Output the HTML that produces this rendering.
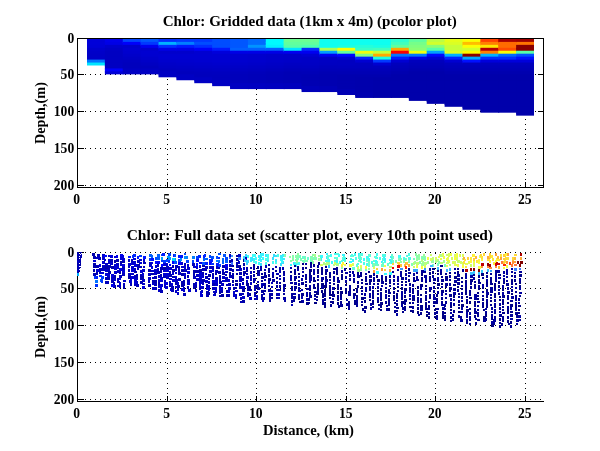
<!DOCTYPE html>
<html><head><meta charset="utf-8"><title>Chlor plots</title>
<style>
html,body{margin:0;padding:0;background:#fff}
svg{display:block}
.g{stroke:#000;stroke-width:1;stroke-dasharray:1 4;fill:none}
</style></head><body>
<svg width="600" height="451" viewBox="0 0 600 451">
<rect width="600" height="451" fill="#fff"/>
<g shape-rendering="crispEdges">
<path d="M167 39h1v1h-1zM167 44h1v1h-1zM167 49h1v1h-1zM167 54h1v1h-1zM167 59h1v1h-1zM167 64h1v1h-1zM167 69h1v1h-1zM167 74h1v1h-1zM167 79h1v1h-1zM167 84h1v1h-1zM167 89h1v1h-1zM167 94h1v1h-1zM167 99h1v1h-1zM167 104h1v1h-1zM167 109h1v1h-1zM167 114h1v1h-1zM167 119h1v1h-1zM167 124h1v1h-1zM167 129h1v1h-1zM167 134h1v1h-1zM167 139h1v1h-1zM167 144h1v1h-1zM167 149h1v1h-1zM167 154h1v1h-1zM167 159h1v1h-1zM167 164h1v1h-1zM167 169h1v1h-1zM167 174h1v1h-1zM167 179h1v1h-1zM167 184h1v1h-1zM256 39h1v1h-1zM256 44h1v1h-1zM256 49h1v1h-1zM256 54h1v1h-1zM256 59h1v1h-1zM256 64h1v1h-1zM256 69h1v1h-1zM256 74h1v1h-1zM256 79h1v1h-1zM256 84h1v1h-1zM256 89h1v1h-1zM256 94h1v1h-1zM256 99h1v1h-1zM256 104h1v1h-1zM256 109h1v1h-1zM256 114h1v1h-1zM256 119h1v1h-1zM256 124h1v1h-1zM256 129h1v1h-1zM256 134h1v1h-1zM256 139h1v1h-1zM256 144h1v1h-1zM256 149h1v1h-1zM256 154h1v1h-1zM256 159h1v1h-1zM256 164h1v1h-1zM256 169h1v1h-1zM256 174h1v1h-1zM256 179h1v1h-1zM256 184h1v1h-1zM346 39h1v1h-1zM346 44h1v1h-1zM346 49h1v1h-1zM346 54h1v1h-1zM346 59h1v1h-1zM346 64h1v1h-1zM346 69h1v1h-1zM346 74h1v1h-1zM346 79h1v1h-1zM346 84h1v1h-1zM346 89h1v1h-1zM346 94h1v1h-1zM346 99h1v1h-1zM346 104h1v1h-1zM346 109h1v1h-1zM346 114h1v1h-1zM346 119h1v1h-1zM346 124h1v1h-1zM346 129h1v1h-1zM346 134h1v1h-1zM346 139h1v1h-1zM346 144h1v1h-1zM346 149h1v1h-1zM346 154h1v1h-1zM346 159h1v1h-1zM346 164h1v1h-1zM346 169h1v1h-1zM346 174h1v1h-1zM346 179h1v1h-1zM346 184h1v1h-1zM435 39h1v1h-1zM435 44h1v1h-1zM435 49h1v1h-1zM435 54h1v1h-1zM435 59h1v1h-1zM435 64h1v1h-1zM435 69h1v1h-1zM435 74h1v1h-1zM435 79h1v1h-1zM435 84h1v1h-1zM435 89h1v1h-1zM435 94h1v1h-1zM435 99h1v1h-1zM435 104h1v1h-1zM435 109h1v1h-1zM435 114h1v1h-1zM435 119h1v1h-1zM435 124h1v1h-1zM435 129h1v1h-1zM435 134h1v1h-1zM435 139h1v1h-1zM435 144h1v1h-1zM435 149h1v1h-1zM435 154h1v1h-1zM435 159h1v1h-1zM435 164h1v1h-1zM435 169h1v1h-1zM435 174h1v1h-1zM435 179h1v1h-1zM435 184h1v1h-1zM525 39h1v1h-1zM525 44h1v1h-1zM525 49h1v1h-1zM525 54h1v1h-1zM525 59h1v1h-1zM525 64h1v1h-1zM525 69h1v1h-1zM525 74h1v1h-1zM525 79h1v1h-1zM525 84h1v1h-1zM525 89h1v1h-1zM525 94h1v1h-1zM525 99h1v1h-1zM525 104h1v1h-1zM525 109h1v1h-1zM525 114h1v1h-1zM525 119h1v1h-1zM525 124h1v1h-1zM525 129h1v1h-1zM525 134h1v1h-1zM525 139h1v1h-1zM525 144h1v1h-1zM525 149h1v1h-1zM525 154h1v1h-1zM525 159h1v1h-1zM525 164h1v1h-1zM525 169h1v1h-1zM525 174h1v1h-1zM525 179h1v1h-1zM525 184h1v1h-1zM80 74h1v1h-1zM85 74h1v1h-1zM90 74h1v1h-1zM95 74h1v1h-1zM100 74h1v1h-1zM105 74h1v1h-1zM110 74h1v1h-1zM115 74h1v1h-1zM120 74h1v1h-1zM125 74h1v1h-1zM130 74h1v1h-1zM135 74h1v1h-1zM140 74h1v1h-1zM145 74h1v1h-1zM150 74h1v1h-1zM155 74h1v1h-1zM160 74h1v1h-1zM165 74h1v1h-1zM170 74h1v1h-1zM175 74h1v1h-1zM180 74h1v1h-1zM185 74h1v1h-1zM190 74h1v1h-1zM195 74h1v1h-1zM200 74h1v1h-1zM205 74h1v1h-1zM210 74h1v1h-1zM215 74h1v1h-1zM220 74h1v1h-1zM225 74h1v1h-1zM230 74h1v1h-1zM235 74h1v1h-1zM240 74h1v1h-1zM245 74h1v1h-1zM250 74h1v1h-1zM255 74h1v1h-1zM260 74h1v1h-1zM265 74h1v1h-1zM270 74h1v1h-1zM275 74h1v1h-1zM280 74h1v1h-1zM285 74h1v1h-1zM290 74h1v1h-1zM295 74h1v1h-1zM300 74h1v1h-1zM305 74h1v1h-1zM310 74h1v1h-1zM315 74h1v1h-1zM320 74h1v1h-1zM325 74h1v1h-1zM330 74h1v1h-1zM335 74h1v1h-1zM340 74h1v1h-1zM345 74h1v1h-1zM350 74h1v1h-1zM355 74h1v1h-1zM360 74h1v1h-1zM365 74h1v1h-1zM370 74h1v1h-1zM375 74h1v1h-1zM380 74h1v1h-1zM385 74h1v1h-1zM390 74h1v1h-1zM395 74h1v1h-1zM400 74h1v1h-1zM405 74h1v1h-1zM410 74h1v1h-1zM415 74h1v1h-1zM420 74h1v1h-1zM425 74h1v1h-1zM430 74h1v1h-1zM435 74h1v1h-1zM440 74h1v1h-1zM445 74h1v1h-1zM450 74h1v1h-1zM455 74h1v1h-1zM460 74h1v1h-1zM465 74h1v1h-1zM470 74h1v1h-1zM475 74h1v1h-1zM480 74h1v1h-1zM485 74h1v1h-1zM490 74h1v1h-1zM495 74h1v1h-1zM500 74h1v1h-1zM505 74h1v1h-1zM510 74h1v1h-1zM515 74h1v1h-1zM520 74h1v1h-1zM525 74h1v1h-1zM530 74h1v1h-1zM535 74h1v1h-1zM540 74h1v1h-1zM80 111h1v1h-1zM85 111h1v1h-1zM90 111h1v1h-1zM95 111h1v1h-1zM100 111h1v1h-1zM105 111h1v1h-1zM110 111h1v1h-1zM115 111h1v1h-1zM120 111h1v1h-1zM125 111h1v1h-1zM130 111h1v1h-1zM135 111h1v1h-1zM140 111h1v1h-1zM145 111h1v1h-1zM150 111h1v1h-1zM155 111h1v1h-1zM160 111h1v1h-1zM165 111h1v1h-1zM170 111h1v1h-1zM175 111h1v1h-1zM180 111h1v1h-1zM185 111h1v1h-1zM190 111h1v1h-1zM195 111h1v1h-1zM200 111h1v1h-1zM205 111h1v1h-1zM210 111h1v1h-1zM215 111h1v1h-1zM220 111h1v1h-1zM225 111h1v1h-1zM230 111h1v1h-1zM235 111h1v1h-1zM240 111h1v1h-1zM245 111h1v1h-1zM250 111h1v1h-1zM255 111h1v1h-1zM260 111h1v1h-1zM265 111h1v1h-1zM270 111h1v1h-1zM275 111h1v1h-1zM280 111h1v1h-1zM285 111h1v1h-1zM290 111h1v1h-1zM295 111h1v1h-1zM300 111h1v1h-1zM305 111h1v1h-1zM310 111h1v1h-1zM315 111h1v1h-1zM320 111h1v1h-1zM325 111h1v1h-1zM330 111h1v1h-1zM335 111h1v1h-1zM340 111h1v1h-1zM345 111h1v1h-1zM350 111h1v1h-1zM355 111h1v1h-1zM360 111h1v1h-1zM365 111h1v1h-1zM370 111h1v1h-1zM375 111h1v1h-1zM380 111h1v1h-1zM385 111h1v1h-1zM390 111h1v1h-1zM395 111h1v1h-1zM400 111h1v1h-1zM405 111h1v1h-1zM410 111h1v1h-1zM415 111h1v1h-1zM420 111h1v1h-1zM425 111h1v1h-1zM430 111h1v1h-1zM435 111h1v1h-1zM440 111h1v1h-1zM445 111h1v1h-1zM450 111h1v1h-1zM455 111h1v1h-1zM460 111h1v1h-1zM465 111h1v1h-1zM470 111h1v1h-1zM475 111h1v1h-1zM480 111h1v1h-1zM485 111h1v1h-1zM490 111h1v1h-1zM495 111h1v1h-1zM500 111h1v1h-1zM505 111h1v1h-1zM510 111h1v1h-1zM515 111h1v1h-1zM520 111h1v1h-1zM525 111h1v1h-1zM530 111h1v1h-1zM535 111h1v1h-1zM540 111h1v1h-1zM80 148h1v1h-1zM85 148h1v1h-1zM90 148h1v1h-1zM95 148h1v1h-1zM100 148h1v1h-1zM105 148h1v1h-1zM110 148h1v1h-1zM115 148h1v1h-1zM120 148h1v1h-1zM125 148h1v1h-1zM130 148h1v1h-1zM135 148h1v1h-1zM140 148h1v1h-1zM145 148h1v1h-1zM150 148h1v1h-1zM155 148h1v1h-1zM160 148h1v1h-1zM165 148h1v1h-1zM170 148h1v1h-1zM175 148h1v1h-1zM180 148h1v1h-1zM185 148h1v1h-1zM190 148h1v1h-1zM195 148h1v1h-1zM200 148h1v1h-1zM205 148h1v1h-1zM210 148h1v1h-1zM215 148h1v1h-1zM220 148h1v1h-1zM225 148h1v1h-1zM230 148h1v1h-1zM235 148h1v1h-1zM240 148h1v1h-1zM245 148h1v1h-1zM250 148h1v1h-1zM255 148h1v1h-1zM260 148h1v1h-1zM265 148h1v1h-1zM270 148h1v1h-1zM275 148h1v1h-1zM280 148h1v1h-1zM285 148h1v1h-1zM290 148h1v1h-1zM295 148h1v1h-1zM300 148h1v1h-1zM305 148h1v1h-1zM310 148h1v1h-1zM315 148h1v1h-1zM320 148h1v1h-1zM325 148h1v1h-1zM330 148h1v1h-1zM335 148h1v1h-1zM340 148h1v1h-1zM345 148h1v1h-1zM350 148h1v1h-1zM355 148h1v1h-1zM360 148h1v1h-1zM365 148h1v1h-1zM370 148h1v1h-1zM375 148h1v1h-1zM380 148h1v1h-1zM385 148h1v1h-1zM390 148h1v1h-1zM395 148h1v1h-1zM400 148h1v1h-1zM405 148h1v1h-1zM410 148h1v1h-1zM415 148h1v1h-1zM420 148h1v1h-1zM425 148h1v1h-1zM430 148h1v1h-1zM435 148h1v1h-1zM440 148h1v1h-1zM445 148h1v1h-1zM450 148h1v1h-1zM455 148h1v1h-1zM460 148h1v1h-1zM465 148h1v1h-1zM470 148h1v1h-1zM475 148h1v1h-1zM480 148h1v1h-1zM485 148h1v1h-1zM490 148h1v1h-1zM495 148h1v1h-1zM500 148h1v1h-1zM505 148h1v1h-1zM510 148h1v1h-1zM515 148h1v1h-1zM520 148h1v1h-1zM525 148h1v1h-1zM530 148h1v1h-1zM535 148h1v1h-1zM540 148h1v1h-1zM80 185h1v1h-1zM85 185h1v1h-1zM90 185h1v1h-1zM95 185h1v1h-1zM100 185h1v1h-1zM105 185h1v1h-1zM110 185h1v1h-1zM115 185h1v1h-1zM120 185h1v1h-1zM125 185h1v1h-1zM130 185h1v1h-1zM135 185h1v1h-1zM140 185h1v1h-1zM145 185h1v1h-1zM150 185h1v1h-1zM155 185h1v1h-1zM160 185h1v1h-1zM165 185h1v1h-1zM170 185h1v1h-1zM175 185h1v1h-1zM180 185h1v1h-1zM185 185h1v1h-1zM190 185h1v1h-1zM195 185h1v1h-1zM200 185h1v1h-1zM205 185h1v1h-1zM210 185h1v1h-1zM215 185h1v1h-1zM220 185h1v1h-1zM225 185h1v1h-1zM230 185h1v1h-1zM235 185h1v1h-1zM240 185h1v1h-1zM245 185h1v1h-1zM250 185h1v1h-1zM255 185h1v1h-1zM260 185h1v1h-1zM265 185h1v1h-1zM270 185h1v1h-1zM275 185h1v1h-1zM280 185h1v1h-1zM285 185h1v1h-1zM290 185h1v1h-1zM295 185h1v1h-1zM300 185h1v1h-1zM305 185h1v1h-1zM310 185h1v1h-1zM315 185h1v1h-1zM320 185h1v1h-1zM325 185h1v1h-1zM330 185h1v1h-1zM335 185h1v1h-1zM340 185h1v1h-1zM345 185h1v1h-1zM350 185h1v1h-1zM355 185h1v1h-1zM360 185h1v1h-1zM365 185h1v1h-1zM370 185h1v1h-1zM375 185h1v1h-1zM380 185h1v1h-1zM385 185h1v1h-1zM390 185h1v1h-1zM395 185h1v1h-1zM400 185h1v1h-1zM405 185h1v1h-1zM410 185h1v1h-1zM415 185h1v1h-1zM420 185h1v1h-1zM425 185h1v1h-1zM430 185h1v1h-1zM435 185h1v1h-1zM440 185h1v1h-1zM445 185h1v1h-1zM450 185h1v1h-1zM455 185h1v1h-1zM460 185h1v1h-1zM465 185h1v1h-1zM470 185h1v1h-1zM475 185h1v1h-1zM480 185h1v1h-1zM485 185h1v1h-1zM490 185h1v1h-1zM495 185h1v1h-1zM500 185h1v1h-1zM505 185h1v1h-1zM510 185h1v1h-1zM515 185h1v1h-1zM520 185h1v1h-1zM525 185h1v1h-1zM530 185h1v1h-1zM535 185h1v1h-1zM540 185h1v1h-1z" fill="#000"/>
<g shape-rendering="geometricPrecision">
<rect x="87.00" y="38.00" width="18.88" height="4.90" fill="#0000d9"/>
<rect x="87.00" y="41.90" width="18.88" height="3.95" fill="#0000d9"/>
<rect x="87.00" y="44.85" width="18.88" height="3.95" fill="#0000d6"/>
<rect x="87.00" y="47.80" width="18.88" height="3.95" fill="#0000cc"/>
<rect x="87.00" y="50.75" width="18.88" height="3.95" fill="#0000c9"/>
<rect x="87.00" y="53.70" width="18.88" height="3.95" fill="#0000c7"/>
<rect x="87.00" y="56.65" width="18.88" height="3.95" fill="#0000c7"/>
<rect x="87.00" y="59.60" width="18.88" height="3.95" fill="#0075ff"/>
<rect x="87.00" y="62.55" width="18.88" height="2.95" fill="#00e5ff"/>
<rect x="104.88" y="38.00" width="18.88" height="4.90" fill="#0000eb"/>
<rect x="104.88" y="41.90" width="18.88" height="3.95" fill="#0000e6"/>
<rect x="104.88" y="44.85" width="18.88" height="3.95" fill="#0000cc"/>
<rect x="104.88" y="47.80" width="18.88" height="3.95" fill="#0000c5"/>
<rect x="104.88" y="50.75" width="18.88" height="3.95" fill="#0000c2"/>
<rect x="104.88" y="53.70" width="18.88" height="3.95" fill="#0000c2"/>
<rect x="104.88" y="56.65" width="18.88" height="3.95" fill="#0000c2"/>
<rect x="104.88" y="59.60" width="18.88" height="3.95" fill="#0000c2"/>
<rect x="104.88" y="62.55" width="18.88" height="3.95" fill="#0000c2"/>
<rect x="104.88" y="65.50" width="18.88" height="3.95" fill="#0000c2"/>
<rect x="104.88" y="68.45" width="18.88" height="3.95" fill="#0000fa"/>
<rect x="104.88" y="71.40" width="18.88" height="2.95" fill="#0000d6"/>
<rect x="122.76" y="38.00" width="18.88" height="4.90" fill="#0042ff"/>
<rect x="122.76" y="41.90" width="18.88" height="3.95" fill="#0000fa"/>
<rect x="122.76" y="44.85" width="18.88" height="3.95" fill="#0000cc"/>
<rect x="122.76" y="47.80" width="18.88" height="3.95" fill="#0000d1"/>
<rect x="122.76" y="50.75" width="18.88" height="3.95" fill="#0000ce"/>
<rect x="122.76" y="53.70" width="18.88" height="3.95" fill="#0000ca"/>
<rect x="122.76" y="56.65" width="18.88" height="3.95" fill="#0000c5"/>
<rect x="122.76" y="59.60" width="18.88" height="3.95" fill="#0000c0"/>
<rect x="122.76" y="62.55" width="18.88" height="3.95" fill="#0000bd"/>
<rect x="122.76" y="65.50" width="18.88" height="3.95" fill="#0000bd"/>
<rect x="122.76" y="68.45" width="18.88" height="3.95" fill="#0000c3"/>
<rect x="122.76" y="71.40" width="18.88" height="2.95" fill="#0000c3"/>
<rect x="140.64" y="38.00" width="18.88" height="4.90" fill="#0057ff"/>
<rect x="140.64" y="41.90" width="18.88" height="3.95" fill="#0038ff"/>
<rect x="140.64" y="44.85" width="18.88" height="3.95" fill="#0000f0"/>
<rect x="140.64" y="47.80" width="18.88" height="3.95" fill="#0000cc"/>
<rect x="140.64" y="50.75" width="18.88" height="3.95" fill="#0000d1"/>
<rect x="140.64" y="53.70" width="18.88" height="3.95" fill="#0000d0"/>
<rect x="140.64" y="56.65" width="18.88" height="3.95" fill="#0000cb"/>
<rect x="140.64" y="59.60" width="18.88" height="3.95" fill="#0000c7"/>
<rect x="140.64" y="62.55" width="18.88" height="3.95" fill="#0000c2"/>
<rect x="140.64" y="65.50" width="18.88" height="3.95" fill="#0000bd"/>
<rect x="140.64" y="68.45" width="18.88" height="3.95" fill="#0000c3"/>
<rect x="140.64" y="71.40" width="18.88" height="2.95" fill="#0000c3"/>
<rect x="158.52" y="38.00" width="18.88" height="4.90" fill="#002eff"/>
<rect x="158.52" y="41.90" width="18.88" height="3.95" fill="#00b2ff"/>
<rect x="158.52" y="44.85" width="18.88" height="3.95" fill="#002eff"/>
<rect x="158.52" y="47.80" width="18.88" height="3.95" fill="#0000e6"/>
<rect x="158.52" y="50.75" width="18.88" height="3.95" fill="#0000cc"/>
<rect x="158.52" y="53.70" width="18.88" height="3.95" fill="#0000d1"/>
<rect x="158.52" y="56.65" width="18.88" height="3.95" fill="#0000d1"/>
<rect x="158.52" y="59.60" width="18.88" height="3.95" fill="#0000cd"/>
<rect x="158.52" y="62.55" width="18.88" height="3.95" fill="#0000c8"/>
<rect x="158.52" y="65.50" width="18.88" height="3.95" fill="#0000c4"/>
<rect x="158.52" y="68.45" width="18.88" height="3.95" fill="#0000bf"/>
<rect x="158.52" y="71.40" width="18.88" height="3.95" fill="#0000c3"/>
<rect x="158.52" y="74.35" width="18.88" height="2.95" fill="#0000c3"/>
<rect x="176.40" y="38.00" width="18.88" height="4.90" fill="#0038ff"/>
<rect x="176.40" y="41.90" width="18.88" height="3.95" fill="#0080ff"/>
<rect x="176.40" y="44.85" width="18.88" height="3.95" fill="#001aff"/>
<rect x="176.40" y="47.80" width="18.88" height="3.95" fill="#0000e6"/>
<rect x="176.40" y="50.75" width="18.88" height="3.95" fill="#0000cc"/>
<rect x="176.40" y="53.70" width="18.88" height="3.95" fill="#0000d1"/>
<rect x="176.40" y="56.65" width="18.88" height="3.95" fill="#0000d1"/>
<rect x="176.40" y="59.60" width="18.88" height="3.95" fill="#0000ce"/>
<rect x="176.40" y="62.55" width="18.88" height="3.95" fill="#0000ca"/>
<rect x="176.40" y="65.50" width="18.88" height="3.95" fill="#0000c5"/>
<rect x="176.40" y="68.45" width="18.88" height="3.95" fill="#0000c1"/>
<rect x="176.40" y="71.40" width="18.88" height="3.95" fill="#0000bd"/>
<rect x="176.40" y="74.35" width="18.88" height="3.95" fill="#0000c3"/>
<rect x="176.40" y="77.30" width="18.88" height="2.95" fill="#0000c3"/>
<rect x="194.28" y="38.00" width="18.88" height="4.90" fill="#0038ff"/>
<rect x="194.28" y="41.90" width="18.88" height="3.95" fill="#004dff"/>
<rect x="194.28" y="44.85" width="18.88" height="3.95" fill="#002eff"/>
<rect x="194.28" y="47.80" width="18.88" height="3.95" fill="#0000fa"/>
<rect x="194.28" y="50.75" width="18.88" height="3.95" fill="#0000d1"/>
<rect x="194.28" y="53.70" width="18.88" height="3.95" fill="#0000d1"/>
<rect x="194.28" y="56.65" width="18.88" height="3.95" fill="#0000d1"/>
<rect x="194.28" y="59.60" width="18.88" height="3.95" fill="#0000d0"/>
<rect x="194.28" y="62.55" width="18.88" height="3.95" fill="#0000cb"/>
<rect x="194.28" y="65.50" width="18.88" height="3.95" fill="#0000c7"/>
<rect x="194.28" y="68.45" width="18.88" height="3.95" fill="#0000c2"/>
<rect x="194.28" y="71.40" width="18.88" height="3.95" fill="#0000be"/>
<rect x="194.28" y="74.35" width="18.88" height="3.95" fill="#0000bd"/>
<rect x="194.28" y="77.30" width="18.88" height="3.95" fill="#0000c3"/>
<rect x="194.28" y="80.25" width="18.88" height="2.95" fill="#0000c3"/>
<rect x="212.16" y="38.00" width="18.88" height="4.90" fill="#004dff"/>
<rect x="212.16" y="41.90" width="18.88" height="3.95" fill="#004dff"/>
<rect x="212.16" y="44.85" width="18.88" height="3.95" fill="#004dff"/>
<rect x="212.16" y="47.80" width="18.88" height="3.95" fill="#001aff"/>
<rect x="212.16" y="50.75" width="18.88" height="3.95" fill="#0000db"/>
<rect x="212.16" y="53.70" width="18.88" height="3.95" fill="#0000d1"/>
<rect x="212.16" y="56.65" width="18.88" height="3.95" fill="#0000d1"/>
<rect x="212.16" y="59.60" width="18.88" height="3.95" fill="#0000d1"/>
<rect x="212.16" y="62.55" width="18.88" height="3.95" fill="#0000cd"/>
<rect x="212.16" y="65.50" width="18.88" height="3.95" fill="#0000c8"/>
<rect x="212.16" y="68.45" width="18.88" height="3.95" fill="#0000c4"/>
<rect x="212.16" y="71.40" width="18.88" height="3.95" fill="#0000bf"/>
<rect x="212.16" y="74.35" width="18.88" height="3.95" fill="#0000bd"/>
<rect x="212.16" y="77.30" width="18.88" height="3.95" fill="#0000bd"/>
<rect x="212.16" y="80.25" width="18.88" height="3.95" fill="#0000c3"/>
<rect x="212.16" y="83.20" width="18.88" height="2.95" fill="#0000c3"/>
<rect x="230.04" y="38.00" width="18.88" height="4.90" fill="#0057ff"/>
<rect x="230.04" y="41.90" width="18.88" height="3.95" fill="#0057ff"/>
<rect x="230.04" y="44.85" width="18.88" height="3.95" fill="#0057ff"/>
<rect x="230.04" y="47.80" width="18.88" height="3.95" fill="#0061ff"/>
<rect x="230.04" y="50.75" width="18.88" height="3.95" fill="#0000e6"/>
<rect x="230.04" y="53.70" width="18.88" height="3.95" fill="#0000cf"/>
<rect x="230.04" y="56.65" width="18.88" height="3.95" fill="#0000cf"/>
<rect x="230.04" y="59.60" width="18.88" height="3.95" fill="#0000cf"/>
<rect x="230.04" y="62.55" width="18.88" height="3.95" fill="#0000cb"/>
<rect x="230.04" y="65.50" width="18.88" height="3.95" fill="#0000c6"/>
<rect x="230.04" y="68.45" width="18.88" height="3.95" fill="#0000c2"/>
<rect x="230.04" y="71.40" width="18.88" height="3.95" fill="#0000bd"/>
<rect x="230.04" y="74.35" width="18.88" height="3.95" fill="#0000bb"/>
<rect x="230.04" y="77.30" width="18.88" height="3.95" fill="#0000bb"/>
<rect x="230.04" y="80.25" width="18.88" height="3.95" fill="#0000bb"/>
<rect x="230.04" y="83.20" width="18.88" height="3.95" fill="#0000c2"/>
<rect x="230.04" y="86.15" width="18.88" height="2.95" fill="#0000c2"/>
<rect x="247.92" y="38.00" width="18.88" height="4.90" fill="#006bff"/>
<rect x="247.92" y="41.90" width="18.88" height="3.95" fill="#006bff"/>
<rect x="247.92" y="44.85" width="18.88" height="3.95" fill="#0094ff"/>
<rect x="247.92" y="47.80" width="18.88" height="3.95" fill="#0061ff"/>
<rect x="247.92" y="50.75" width="18.88" height="3.95" fill="#0000e6"/>
<rect x="247.92" y="53.70" width="18.88" height="3.95" fill="#0000cd"/>
<rect x="247.92" y="56.65" width="18.88" height="3.95" fill="#0000cd"/>
<rect x="247.92" y="59.60" width="18.88" height="3.95" fill="#0000cd"/>
<rect x="247.92" y="62.55" width="18.88" height="3.95" fill="#0000c9"/>
<rect x="247.92" y="65.50" width="18.88" height="3.95" fill="#0000c4"/>
<rect x="247.92" y="68.45" width="18.88" height="3.95" fill="#0000c0"/>
<rect x="247.92" y="71.40" width="18.88" height="3.95" fill="#0000bb"/>
<rect x="247.92" y="74.35" width="18.88" height="3.95" fill="#0000b9"/>
<rect x="247.92" y="77.30" width="18.88" height="3.95" fill="#0000b9"/>
<rect x="247.92" y="80.25" width="18.88" height="3.95" fill="#0000b9"/>
<rect x="247.92" y="83.20" width="18.88" height="3.95" fill="#0000c1"/>
<rect x="247.92" y="86.15" width="18.88" height="2.95" fill="#0000c1"/>
<rect x="265.80" y="38.00" width="18.88" height="4.90" fill="#00faff"/>
<rect x="265.80" y="41.90" width="18.88" height="3.95" fill="#00faff"/>
<rect x="265.80" y="44.85" width="18.88" height="3.95" fill="#00f0ff"/>
<rect x="265.80" y="47.80" width="18.88" height="3.95" fill="#0061ff"/>
<rect x="265.80" y="50.75" width="18.88" height="3.95" fill="#0000e6"/>
<rect x="265.80" y="53.70" width="18.88" height="3.95" fill="#0000ca"/>
<rect x="265.80" y="56.65" width="18.88" height="3.95" fill="#0000ca"/>
<rect x="265.80" y="59.60" width="18.88" height="3.95" fill="#0000ca"/>
<rect x="265.80" y="62.55" width="18.88" height="3.95" fill="#0000c6"/>
<rect x="265.80" y="65.50" width="18.88" height="3.95" fill="#0000c2"/>
<rect x="265.80" y="68.45" width="18.88" height="3.95" fill="#0000bd"/>
<rect x="265.80" y="71.40" width="18.88" height="3.95" fill="#0000b8"/>
<rect x="265.80" y="74.35" width="18.88" height="3.95" fill="#0000b7"/>
<rect x="265.80" y="77.30" width="18.88" height="3.95" fill="#0000b7"/>
<rect x="265.80" y="80.25" width="18.88" height="3.95" fill="#0000b7"/>
<rect x="265.80" y="83.20" width="18.88" height="3.95" fill="#0000bf"/>
<rect x="265.80" y="86.15" width="18.88" height="2.95" fill="#0000bf"/>
<rect x="283.68" y="38.00" width="18.88" height="4.90" fill="#6bff94"/>
<rect x="283.68" y="41.90" width="18.88" height="3.95" fill="#61ff9e"/>
<rect x="283.68" y="44.85" width="18.88" height="3.95" fill="#57ffa8"/>
<rect x="283.68" y="47.80" width="18.88" height="3.95" fill="#00e5ff"/>
<rect x="283.68" y="50.75" width="18.88" height="3.95" fill="#0000f0"/>
<rect x="283.68" y="53.70" width="18.88" height="3.95" fill="#0000c8"/>
<rect x="283.68" y="56.65" width="18.88" height="3.95" fill="#0000c8"/>
<rect x="283.68" y="59.60" width="18.88" height="3.95" fill="#0000c8"/>
<rect x="283.68" y="62.55" width="18.88" height="3.95" fill="#0000c3"/>
<rect x="283.68" y="65.50" width="18.88" height="3.95" fill="#0000bf"/>
<rect x="283.68" y="68.45" width="18.88" height="3.95" fill="#0000ba"/>
<rect x="283.68" y="71.40" width="18.88" height="3.95" fill="#0000b5"/>
<rect x="283.68" y="74.35" width="18.88" height="3.95" fill="#0000b5"/>
<rect x="283.68" y="77.30" width="18.88" height="3.95" fill="#0000b5"/>
<rect x="283.68" y="80.25" width="18.88" height="3.95" fill="#0000b5"/>
<rect x="283.68" y="83.20" width="18.88" height="3.95" fill="#0000bd"/>
<rect x="283.68" y="86.15" width="18.88" height="2.95" fill="#0000bd"/>
<rect x="301.56" y="38.00" width="18.88" height="4.90" fill="#6bff94"/>
<rect x="301.56" y="41.90" width="18.88" height="3.95" fill="#61ff9e"/>
<rect x="301.56" y="44.85" width="18.88" height="3.95" fill="#4dffb2"/>
<rect x="301.56" y="47.80" width="18.88" height="3.95" fill="#002eff"/>
<rect x="301.56" y="50.75" width="18.88" height="3.95" fill="#0000f0"/>
<rect x="301.56" y="53.70" width="18.88" height="3.95" fill="#0000d1"/>
<rect x="301.56" y="56.65" width="18.88" height="3.95" fill="#0000c6"/>
<rect x="301.56" y="59.60" width="18.88" height="3.95" fill="#0000c6"/>
<rect x="301.56" y="62.55" width="18.88" height="3.95" fill="#0000c4"/>
<rect x="301.56" y="65.50" width="18.88" height="3.95" fill="#0000c0"/>
<rect x="301.56" y="68.45" width="18.88" height="3.95" fill="#0000bb"/>
<rect x="301.56" y="71.40" width="18.88" height="3.95" fill="#0000b7"/>
<rect x="301.56" y="74.35" width="18.88" height="3.95" fill="#0000b3"/>
<rect x="301.56" y="77.30" width="18.88" height="3.95" fill="#0000b3"/>
<rect x="301.56" y="80.25" width="18.88" height="3.95" fill="#0000b3"/>
<rect x="301.56" y="83.20" width="18.88" height="3.95" fill="#0000b3"/>
<rect x="301.56" y="86.15" width="18.88" height="3.95" fill="#0000ba"/>
<rect x="301.56" y="89.10" width="18.88" height="2.95" fill="#0000ba"/>
<rect x="319.44" y="38.00" width="18.88" height="4.90" fill="#0ffff0"/>
<rect x="319.44" y="41.90" width="18.88" height="3.95" fill="#0ffff0"/>
<rect x="319.44" y="44.85" width="18.88" height="3.95" fill="#0ffff0"/>
<rect x="319.44" y="47.80" width="18.88" height="3.95" fill="#a8ff57"/>
<rect x="319.44" y="50.75" width="18.88" height="3.95" fill="#009eff"/>
<rect x="319.44" y="53.70" width="18.88" height="3.95" fill="#0000f0"/>
<rect x="319.44" y="56.65" width="18.88" height="3.95" fill="#0000c3"/>
<rect x="319.44" y="59.60" width="18.88" height="3.95" fill="#0000c3"/>
<rect x="319.44" y="62.55" width="18.88" height="3.95" fill="#0000c1"/>
<rect x="319.44" y="65.50" width="18.88" height="3.95" fill="#0000bc"/>
<rect x="319.44" y="68.45" width="18.88" height="3.95" fill="#0000b8"/>
<rect x="319.44" y="71.40" width="18.88" height="3.95" fill="#0000b3"/>
<rect x="319.44" y="74.35" width="18.88" height="3.95" fill="#0000b1"/>
<rect x="319.44" y="77.30" width="18.88" height="3.95" fill="#0000b1"/>
<rect x="319.44" y="80.25" width="18.88" height="3.95" fill="#0000b1"/>
<rect x="319.44" y="83.20" width="18.88" height="3.95" fill="#0000b1"/>
<rect x="319.44" y="86.15" width="18.88" height="3.95" fill="#0000b7"/>
<rect x="319.44" y="89.10" width="18.88" height="2.95" fill="#0000b7"/>
<rect x="337.32" y="38.00" width="18.88" height="4.90" fill="#0ffff0"/>
<rect x="337.32" y="41.90" width="18.88" height="3.95" fill="#0ffff0"/>
<rect x="337.32" y="44.85" width="18.88" height="3.95" fill="#1affe5"/>
<rect x="337.32" y="47.80" width="18.88" height="3.95" fill="#faff05"/>
<rect x="337.32" y="50.75" width="18.88" height="3.95" fill="#61ff9e"/>
<rect x="337.32" y="53.70" width="18.88" height="3.95" fill="#0005ff"/>
<rect x="337.32" y="56.65" width="18.88" height="3.95" fill="#0000d1"/>
<rect x="337.32" y="59.60" width="18.88" height="3.95" fill="#0000c1"/>
<rect x="337.32" y="62.55" width="18.88" height="3.95" fill="#0000c1"/>
<rect x="337.32" y="65.50" width="18.88" height="3.95" fill="#0000bd"/>
<rect x="337.32" y="68.45" width="18.88" height="3.95" fill="#0000b8"/>
<rect x="337.32" y="71.40" width="18.88" height="3.95" fill="#0000b4"/>
<rect x="337.32" y="74.35" width="18.88" height="3.95" fill="#0000af"/>
<rect x="337.32" y="77.30" width="18.88" height="3.95" fill="#0000af"/>
<rect x="337.32" y="80.25" width="18.88" height="3.95" fill="#0000af"/>
<rect x="337.32" y="83.20" width="18.88" height="3.95" fill="#0000af"/>
<rect x="337.32" y="86.15" width="18.88" height="3.95" fill="#0000af"/>
<rect x="337.32" y="89.10" width="18.88" height="3.95" fill="#0000b4"/>
<rect x="337.32" y="92.05" width="18.88" height="2.95" fill="#0000b4"/>
<rect x="355.20" y="38.00" width="18.88" height="4.90" fill="#0ffff0"/>
<rect x="355.20" y="41.90" width="18.88" height="3.95" fill="#0ffff0"/>
<rect x="355.20" y="44.85" width="18.88" height="3.95" fill="#24ffdb"/>
<rect x="355.20" y="47.80" width="18.88" height="3.95" fill="#38ffc7"/>
<rect x="355.20" y="50.75" width="18.88" height="3.95" fill="#f0ff0f"/>
<rect x="355.20" y="53.70" width="18.88" height="3.95" fill="#80ff80"/>
<rect x="355.20" y="56.65" width="18.88" height="3.95" fill="#0024ff"/>
<rect x="355.20" y="59.60" width="18.88" height="3.95" fill="#0000d1"/>
<rect x="355.20" y="62.55" width="18.88" height="3.95" fill="#0000bf"/>
<rect x="355.20" y="65.50" width="18.88" height="3.95" fill="#0000bd"/>
<rect x="355.20" y="68.45" width="18.88" height="3.95" fill="#0000b8"/>
<rect x="355.20" y="71.40" width="18.88" height="3.95" fill="#0000b4"/>
<rect x="355.20" y="74.35" width="18.88" height="3.95" fill="#0000af"/>
<rect x="355.20" y="77.30" width="18.88" height="3.95" fill="#0000ad"/>
<rect x="355.20" y="80.25" width="18.88" height="3.95" fill="#0000ad"/>
<rect x="355.20" y="83.20" width="18.88" height="3.95" fill="#0000ad"/>
<rect x="355.20" y="86.15" width="18.88" height="3.95" fill="#0000ad"/>
<rect x="355.20" y="89.10" width="18.88" height="3.95" fill="#0000ad"/>
<rect x="355.20" y="92.05" width="18.88" height="3.95" fill="#0000b0"/>
<rect x="355.20" y="95.00" width="18.88" height="2.95" fill="#0000b0"/>
<rect x="373.08" y="38.00" width="18.88" height="4.90" fill="#0ffff0"/>
<rect x="373.08" y="41.90" width="18.88" height="3.95" fill="#0ffff0"/>
<rect x="373.08" y="44.85" width="18.88" height="3.95" fill="#1affe5"/>
<rect x="373.08" y="47.80" width="18.88" height="3.95" fill="#42ffbd"/>
<rect x="373.08" y="50.75" width="18.88" height="3.95" fill="#c7ff38"/>
<rect x="373.08" y="53.70" width="18.88" height="3.95" fill="#ffa800"/>
<rect x="373.08" y="56.65" width="18.88" height="3.95" fill="#1affe5"/>
<rect x="373.08" y="59.60" width="18.88" height="3.95" fill="#0038ff"/>
<rect x="373.08" y="62.55" width="18.88" height="3.95" fill="#0000d1"/>
<rect x="373.08" y="65.50" width="18.88" height="3.95" fill="#0000bd"/>
<rect x="373.08" y="68.45" width="18.88" height="3.95" fill="#0000b8"/>
<rect x="373.08" y="71.40" width="18.88" height="3.95" fill="#0000b4"/>
<rect x="373.08" y="74.35" width="18.88" height="3.95" fill="#0000af"/>
<rect x="373.08" y="77.30" width="18.88" height="3.95" fill="#0000ab"/>
<rect x="373.08" y="80.25" width="18.88" height="3.95" fill="#0000ab"/>
<rect x="373.08" y="83.20" width="18.88" height="3.95" fill="#0000ab"/>
<rect x="373.08" y="86.15" width="18.88" height="3.95" fill="#0000ab"/>
<rect x="373.08" y="89.10" width="18.88" height="3.95" fill="#0000ab"/>
<rect x="373.08" y="92.05" width="18.88" height="3.95" fill="#0000ab"/>
<rect x="373.08" y="95.00" width="18.88" height="2.95" fill="#0000ab"/>
<rect x="390.96" y="38.00" width="18.88" height="4.90" fill="#2effd1"/>
<rect x="390.96" y="41.90" width="18.88" height="3.95" fill="#42ffbd"/>
<rect x="390.96" y="44.85" width="18.88" height="3.95" fill="#61ff9e"/>
<rect x="390.96" y="47.80" width="18.88" height="3.95" fill="#ffa800"/>
<rect x="390.96" y="50.75" width="18.88" height="3.95" fill="#fa0000"/>
<rect x="390.96" y="53.70" width="18.88" height="3.95" fill="#0075ff"/>
<rect x="390.96" y="56.65" width="18.88" height="3.95" fill="#001aff"/>
<rect x="390.96" y="59.60" width="18.88" height="3.95" fill="#0000d1"/>
<rect x="390.96" y="62.55" width="18.88" height="3.95" fill="#0000bd"/>
<rect x="390.96" y="65.50" width="18.88" height="3.95" fill="#0000b8"/>
<rect x="390.96" y="68.45" width="18.88" height="3.95" fill="#0000b4"/>
<rect x="390.96" y="71.40" width="18.88" height="3.95" fill="#0000af"/>
<rect x="390.96" y="74.35" width="18.88" height="3.95" fill="#0000ab"/>
<rect x="390.96" y="77.30" width="18.88" height="3.95" fill="#0000ab"/>
<rect x="390.96" y="80.25" width="18.88" height="3.95" fill="#0000ab"/>
<rect x="390.96" y="83.20" width="18.88" height="3.95" fill="#0000ab"/>
<rect x="390.96" y="86.15" width="18.88" height="3.95" fill="#0000ab"/>
<rect x="390.96" y="89.10" width="18.88" height="3.95" fill="#0000ab"/>
<rect x="390.96" y="92.05" width="18.88" height="3.95" fill="#0000ab"/>
<rect x="390.96" y="95.00" width="18.88" height="2.95" fill="#0000ab"/>
<rect x="408.84" y="38.00" width="18.88" height="4.90" fill="#61ff9e"/>
<rect x="408.84" y="41.90" width="18.88" height="3.95" fill="#75ff8a"/>
<rect x="408.84" y="44.85" width="18.88" height="3.95" fill="#80ff80"/>
<rect x="408.84" y="47.80" width="18.88" height="3.95" fill="#8aff75"/>
<rect x="408.84" y="50.75" width="18.88" height="3.95" fill="#f0ff0f"/>
<rect x="408.84" y="53.70" width="18.88" height="3.95" fill="#0075ff"/>
<rect x="408.84" y="56.65" width="18.88" height="3.95" fill="#0000e6"/>
<rect x="408.84" y="59.60" width="18.88" height="3.95" fill="#0000bd"/>
<rect x="408.84" y="62.55" width="18.88" height="3.95" fill="#0000b8"/>
<rect x="408.84" y="65.50" width="18.88" height="3.95" fill="#0000b4"/>
<rect x="408.84" y="68.45" width="18.88" height="3.95" fill="#0000af"/>
<rect x="408.84" y="71.40" width="18.88" height="3.95" fill="#0000ab"/>
<rect x="408.84" y="74.35" width="18.88" height="3.95" fill="#0000ab"/>
<rect x="408.84" y="77.30" width="18.88" height="3.95" fill="#0000ab"/>
<rect x="408.84" y="80.25" width="18.88" height="3.95" fill="#0000ab"/>
<rect x="408.84" y="83.20" width="18.88" height="3.95" fill="#0000ab"/>
<rect x="408.84" y="86.15" width="18.88" height="3.95" fill="#0000ab"/>
<rect x="408.84" y="89.10" width="18.88" height="3.95" fill="#0000ab"/>
<rect x="408.84" y="92.05" width="18.88" height="3.95" fill="#0000ab"/>
<rect x="408.84" y="95.00" width="18.88" height="3.95" fill="#0000ab"/>
<rect x="408.84" y="97.95" width="18.88" height="2.95" fill="#0000ab"/>
<rect x="426.72" y="38.00" width="18.88" height="4.90" fill="#bdff42"/>
<rect x="426.72" y="41.90" width="18.88" height="3.95" fill="#d1ff2e"/>
<rect x="426.72" y="44.85" width="18.88" height="3.95" fill="#8aff75"/>
<rect x="426.72" y="47.80" width="18.88" height="3.95" fill="#57ffa8"/>
<rect x="426.72" y="50.75" width="18.88" height="3.95" fill="#009eff"/>
<rect x="426.72" y="53.70" width="18.88" height="3.95" fill="#0005ff"/>
<rect x="426.72" y="56.65" width="18.88" height="3.95" fill="#0000d1"/>
<rect x="426.72" y="59.60" width="18.88" height="3.95" fill="#0000bd"/>
<rect x="426.72" y="62.55" width="18.88" height="3.95" fill="#0000b8"/>
<rect x="426.72" y="65.50" width="18.88" height="3.95" fill="#0000b4"/>
<rect x="426.72" y="68.45" width="18.88" height="3.95" fill="#0000af"/>
<rect x="426.72" y="71.40" width="18.88" height="3.95" fill="#0000ab"/>
<rect x="426.72" y="74.35" width="18.88" height="3.95" fill="#0000ab"/>
<rect x="426.72" y="77.30" width="18.88" height="3.95" fill="#0000ab"/>
<rect x="426.72" y="80.25" width="18.88" height="3.95" fill="#0000ab"/>
<rect x="426.72" y="83.20" width="18.88" height="3.95" fill="#0000ab"/>
<rect x="426.72" y="86.15" width="18.88" height="3.95" fill="#0000ab"/>
<rect x="426.72" y="89.10" width="18.88" height="3.95" fill="#0000ab"/>
<rect x="426.72" y="92.05" width="18.88" height="3.95" fill="#0000ab"/>
<rect x="426.72" y="95.00" width="18.88" height="3.95" fill="#0000ab"/>
<rect x="426.72" y="97.95" width="18.88" height="3.95" fill="#0000ab"/>
<rect x="426.72" y="100.90" width="18.88" height="2.95" fill="#0000ab"/>
<rect x="444.60" y="38.00" width="18.88" height="4.90" fill="#e5ff1a"/>
<rect x="444.60" y="41.90" width="18.88" height="3.95" fill="#dbff24"/>
<rect x="444.60" y="44.85" width="18.88" height="3.95" fill="#c7ff38"/>
<rect x="444.60" y="47.80" width="18.88" height="3.95" fill="#c7ff38"/>
<rect x="444.60" y="50.75" width="18.88" height="3.95" fill="#dbff24"/>
<rect x="444.60" y="53.70" width="18.88" height="3.95" fill="#00b2ff"/>
<rect x="444.60" y="56.65" width="18.88" height="3.95" fill="#0024ff"/>
<rect x="444.60" y="59.60" width="18.88" height="3.95" fill="#0000d1"/>
<rect x="444.60" y="62.55" width="18.88" height="3.95" fill="#0000bd"/>
<rect x="444.60" y="65.50" width="18.88" height="3.95" fill="#0000b8"/>
<rect x="444.60" y="68.45" width="18.88" height="3.95" fill="#0000b4"/>
<rect x="444.60" y="71.40" width="18.88" height="3.95" fill="#0000af"/>
<rect x="444.60" y="74.35" width="18.88" height="3.95" fill="#0000ab"/>
<rect x="444.60" y="77.30" width="18.88" height="3.95" fill="#0000ab"/>
<rect x="444.60" y="80.25" width="18.88" height="3.95" fill="#0000ab"/>
<rect x="444.60" y="83.20" width="18.88" height="3.95" fill="#0000ab"/>
<rect x="444.60" y="86.15" width="18.88" height="3.95" fill="#0000ab"/>
<rect x="444.60" y="89.10" width="18.88" height="3.95" fill="#0000ab"/>
<rect x="444.60" y="92.05" width="18.88" height="3.95" fill="#0000ab"/>
<rect x="444.60" y="95.00" width="18.88" height="3.95" fill="#0000ab"/>
<rect x="444.60" y="97.95" width="18.88" height="3.95" fill="#0000ab"/>
<rect x="444.60" y="100.90" width="18.88" height="3.95" fill="#0000ab"/>
<rect x="444.60" y="103.85" width="18.88" height="2.95" fill="#0000ab"/>
<rect x="462.48" y="38.00" width="18.88" height="4.90" fill="#faff05"/>
<rect x="462.48" y="41.90" width="18.88" height="3.95" fill="#ffbd00"/>
<rect x="462.48" y="44.85" width="18.88" height="3.95" fill="#faff05"/>
<rect x="462.48" y="47.80" width="18.88" height="3.95" fill="#d1ff2e"/>
<rect x="462.48" y="50.75" width="18.88" height="3.95" fill="#fffa00"/>
<rect x="462.48" y="53.70" width="18.88" height="3.95" fill="#8a0000"/>
<rect x="462.48" y="56.65" width="18.88" height="3.95" fill="#00a8ff"/>
<rect x="462.48" y="59.60" width="18.88" height="3.95" fill="#000fff"/>
<rect x="462.48" y="62.55" width="18.88" height="3.95" fill="#0000bd"/>
<rect x="462.48" y="65.50" width="18.88" height="3.95" fill="#0000b8"/>
<rect x="462.48" y="68.45" width="18.88" height="3.95" fill="#0000b4"/>
<rect x="462.48" y="71.40" width="18.88" height="3.95" fill="#0000af"/>
<rect x="462.48" y="74.35" width="18.88" height="3.95" fill="#0000ab"/>
<rect x="462.48" y="77.30" width="18.88" height="3.95" fill="#0000ab"/>
<rect x="462.48" y="80.25" width="18.88" height="3.95" fill="#0000ab"/>
<rect x="462.48" y="83.20" width="18.88" height="3.95" fill="#0000ab"/>
<rect x="462.48" y="86.15" width="18.88" height="3.95" fill="#0000ab"/>
<rect x="462.48" y="89.10" width="18.88" height="3.95" fill="#0000ab"/>
<rect x="462.48" y="92.05" width="18.88" height="3.95" fill="#0000ab"/>
<rect x="462.48" y="95.00" width="18.88" height="3.95" fill="#0000ab"/>
<rect x="462.48" y="97.95" width="18.88" height="3.95" fill="#0000ab"/>
<rect x="462.48" y="100.90" width="18.88" height="3.95" fill="#0000ab"/>
<rect x="462.48" y="103.85" width="18.88" height="3.95" fill="#0000ab"/>
<rect x="462.48" y="106.80" width="18.88" height="2.95" fill="#0000ab"/>
<rect x="480.36" y="38.00" width="18.88" height="4.90" fill="#ff4200"/>
<rect x="480.36" y="41.90" width="18.88" height="3.95" fill="#ff8000"/>
<rect x="480.36" y="44.85" width="18.88" height="3.95" fill="#ffe500"/>
<rect x="480.36" y="47.80" width="18.88" height="3.95" fill="#b30000"/>
<rect x="480.36" y="50.75" width="18.88" height="3.95" fill="#ff8000"/>
<rect x="480.36" y="53.70" width="18.88" height="3.95" fill="#00b2ff"/>
<rect x="480.36" y="56.65" width="18.88" height="3.95" fill="#002eff"/>
<rect x="480.36" y="59.60" width="18.88" height="3.95" fill="#0000db"/>
<rect x="480.36" y="62.55" width="18.88" height="3.95" fill="#0000bd"/>
<rect x="480.36" y="65.50" width="18.88" height="3.95" fill="#0000b8"/>
<rect x="480.36" y="68.45" width="18.88" height="3.95" fill="#0000b4"/>
<rect x="480.36" y="71.40" width="18.88" height="3.95" fill="#0000af"/>
<rect x="480.36" y="74.35" width="18.88" height="3.95" fill="#0000ab"/>
<rect x="480.36" y="77.30" width="18.88" height="3.95" fill="#0000ab"/>
<rect x="480.36" y="80.25" width="18.88" height="3.95" fill="#0000ab"/>
<rect x="480.36" y="83.20" width="18.88" height="3.95" fill="#0000ab"/>
<rect x="480.36" y="86.15" width="18.88" height="3.95" fill="#0000ab"/>
<rect x="480.36" y="89.10" width="18.88" height="3.95" fill="#0000ab"/>
<rect x="480.36" y="92.05" width="18.88" height="3.95" fill="#0000ab"/>
<rect x="480.36" y="95.00" width="18.88" height="3.95" fill="#0000ab"/>
<rect x="480.36" y="97.95" width="18.88" height="3.95" fill="#0000ab"/>
<rect x="480.36" y="100.90" width="18.88" height="3.95" fill="#0000ab"/>
<rect x="480.36" y="103.85" width="18.88" height="3.95" fill="#0000ab"/>
<rect x="480.36" y="106.80" width="18.88" height="3.95" fill="#0000ab"/>
<rect x="480.36" y="109.75" width="18.88" height="2.95" fill="#0000ab"/>
<rect x="498.24" y="38.00" width="18.88" height="4.90" fill="#a80000"/>
<rect x="498.24" y="41.90" width="18.88" height="3.95" fill="#ff6b00"/>
<rect x="498.24" y="44.85" width="18.88" height="3.95" fill="#ff6b00"/>
<rect x="498.24" y="47.80" width="18.88" height="3.95" fill="#ff4c00"/>
<rect x="498.24" y="50.75" width="18.88" height="3.95" fill="#faff05"/>
<rect x="498.24" y="53.70" width="18.88" height="3.95" fill="#006bff"/>
<rect x="498.24" y="56.65" width="18.88" height="3.95" fill="#002eff"/>
<rect x="498.24" y="59.60" width="18.88" height="3.95" fill="#0000db"/>
<rect x="498.24" y="62.55" width="18.88" height="3.95" fill="#0000bd"/>
<rect x="498.24" y="65.50" width="18.88" height="3.95" fill="#0000b8"/>
<rect x="498.24" y="68.45" width="18.88" height="3.95" fill="#0000b4"/>
<rect x="498.24" y="71.40" width="18.88" height="3.95" fill="#0000af"/>
<rect x="498.24" y="74.35" width="18.88" height="3.95" fill="#0000ab"/>
<rect x="498.24" y="77.30" width="18.88" height="3.95" fill="#0000ab"/>
<rect x="498.24" y="80.25" width="18.88" height="3.95" fill="#0000ab"/>
<rect x="498.24" y="83.20" width="18.88" height="3.95" fill="#0000ab"/>
<rect x="498.24" y="86.15" width="18.88" height="3.95" fill="#0000ab"/>
<rect x="498.24" y="89.10" width="18.88" height="3.95" fill="#0000ab"/>
<rect x="498.24" y="92.05" width="18.88" height="3.95" fill="#0000ab"/>
<rect x="498.24" y="95.00" width="18.88" height="3.95" fill="#0000ab"/>
<rect x="498.24" y="97.95" width="18.88" height="3.95" fill="#0000ab"/>
<rect x="498.24" y="100.90" width="18.88" height="3.95" fill="#0000ab"/>
<rect x="498.24" y="103.85" width="18.88" height="3.95" fill="#0000ab"/>
<rect x="498.24" y="106.80" width="18.88" height="3.95" fill="#0000ab"/>
<rect x="498.24" y="109.75" width="18.88" height="2.95" fill="#0000ab"/>
<rect x="516.12" y="38.00" width="17.88" height="4.90" fill="#9e0000"/>
<rect x="516.12" y="41.90" width="17.88" height="3.95" fill="#ff7500"/>
<rect x="516.12" y="44.85" width="17.88" height="3.95" fill="#8a0000"/>
<rect x="516.12" y="47.80" width="17.88" height="3.95" fill="#8a0000"/>
<rect x="516.12" y="50.75" width="17.88" height="3.95" fill="#57ffa8"/>
<rect x="516.12" y="53.70" width="17.88" height="3.95" fill="#004dff"/>
<rect x="516.12" y="56.65" width="17.88" height="3.95" fill="#000fff"/>
<rect x="516.12" y="59.60" width="17.88" height="3.95" fill="#0000db"/>
<rect x="516.12" y="62.55" width="17.88" height="3.95" fill="#0000bd"/>
<rect x="516.12" y="65.50" width="17.88" height="3.95" fill="#0000b8"/>
<rect x="516.12" y="68.45" width="17.88" height="3.95" fill="#0000b4"/>
<rect x="516.12" y="71.40" width="17.88" height="3.95" fill="#0000af"/>
<rect x="516.12" y="74.35" width="17.88" height="3.95" fill="#0000ab"/>
<rect x="516.12" y="77.30" width="17.88" height="3.95" fill="#0000ab"/>
<rect x="516.12" y="80.25" width="17.88" height="3.95" fill="#0000ab"/>
<rect x="516.12" y="83.20" width="17.88" height="3.95" fill="#0000ab"/>
<rect x="516.12" y="86.15" width="17.88" height="3.95" fill="#0000ab"/>
<rect x="516.12" y="89.10" width="17.88" height="3.95" fill="#0000ab"/>
<rect x="516.12" y="92.05" width="17.88" height="3.95" fill="#0000ab"/>
<rect x="516.12" y="95.00" width="17.88" height="3.95" fill="#0000ab"/>
<rect x="516.12" y="97.95" width="17.88" height="3.95" fill="#0000ab"/>
<rect x="516.12" y="100.90" width="17.88" height="3.95" fill="#0000ab"/>
<rect x="516.12" y="103.85" width="17.88" height="3.95" fill="#0000ab"/>
<rect x="516.12" y="106.80" width="17.88" height="3.95" fill="#0000ab"/>
<rect x="516.12" y="109.75" width="17.88" height="3.95" fill="#0000ab"/>
<rect x="516.12" y="112.70" width="17.88" height="2.95" fill="#0000ab"/>
</g>
<path d="M77.5 38.5H543.5V187.5H77.5Z" fill="none" stroke="#000"/>
<path d="M77.5 38.5h6M543.5 38.5h-6" stroke="#000"/>
<path d="M77.5 74.5h6M543.5 74.5h-6" stroke="#000"/>
<path d="M77.5 111.5h6M543.5 111.5h-6" stroke="#000"/>
<path d="M77.5 148.5h6M543.5 148.5h-6" stroke="#000"/>
<path d="M77.5 185.5h6M543.5 185.5h-6" stroke="#000"/>
<path d="M77.5 187.5v-6" stroke="#000"/>
<path d="M167.5 187.5v-6" stroke="#000"/>
<path d="M256.5 187.5v-6" stroke="#000"/>
<path d="M346.5 187.5v-6" stroke="#000"/>
<path d="M435.5 187.5v-6" stroke="#000"/>
<path d="M525.5 187.5v-6" stroke="#000"/>
</g>
<g shape-rendering="crispEdges">
<path d="M167 253h1v1h-1zM167 258h1v1h-1zM167 263h1v1h-1zM167 268h1v1h-1zM167 273h1v1h-1zM167 278h1v1h-1zM167 283h1v1h-1zM167 288h1v1h-1zM167 293h1v1h-1zM167 298h1v1h-1zM167 303h1v1h-1zM167 308h1v1h-1zM167 313h1v1h-1zM167 318h1v1h-1zM167 323h1v1h-1zM167 328h1v1h-1zM167 333h1v1h-1zM167 338h1v1h-1zM167 343h1v1h-1zM167 348h1v1h-1zM167 353h1v1h-1zM167 358h1v1h-1zM167 363h1v1h-1zM167 368h1v1h-1zM167 373h1v1h-1zM167 378h1v1h-1zM167 383h1v1h-1zM167 388h1v1h-1zM167 393h1v1h-1zM167 398h1v1h-1zM256 253h1v1h-1zM256 258h1v1h-1zM256 263h1v1h-1zM256 268h1v1h-1zM256 273h1v1h-1zM256 278h1v1h-1zM256 283h1v1h-1zM256 288h1v1h-1zM256 293h1v1h-1zM256 298h1v1h-1zM256 303h1v1h-1zM256 308h1v1h-1zM256 313h1v1h-1zM256 318h1v1h-1zM256 323h1v1h-1zM256 328h1v1h-1zM256 333h1v1h-1zM256 338h1v1h-1zM256 343h1v1h-1zM256 348h1v1h-1zM256 353h1v1h-1zM256 358h1v1h-1zM256 363h1v1h-1zM256 368h1v1h-1zM256 373h1v1h-1zM256 378h1v1h-1zM256 383h1v1h-1zM256 388h1v1h-1zM256 393h1v1h-1zM256 398h1v1h-1zM346 253h1v1h-1zM346 258h1v1h-1zM346 263h1v1h-1zM346 268h1v1h-1zM346 273h1v1h-1zM346 278h1v1h-1zM346 283h1v1h-1zM346 288h1v1h-1zM346 293h1v1h-1zM346 298h1v1h-1zM346 303h1v1h-1zM346 308h1v1h-1zM346 313h1v1h-1zM346 318h1v1h-1zM346 323h1v1h-1zM346 328h1v1h-1zM346 333h1v1h-1zM346 338h1v1h-1zM346 343h1v1h-1zM346 348h1v1h-1zM346 353h1v1h-1zM346 358h1v1h-1zM346 363h1v1h-1zM346 368h1v1h-1zM346 373h1v1h-1zM346 378h1v1h-1zM346 383h1v1h-1zM346 388h1v1h-1zM346 393h1v1h-1zM346 398h1v1h-1zM435 253h1v1h-1zM435 258h1v1h-1zM435 263h1v1h-1zM435 268h1v1h-1zM435 273h1v1h-1zM435 278h1v1h-1zM435 283h1v1h-1zM435 288h1v1h-1zM435 293h1v1h-1zM435 298h1v1h-1zM435 303h1v1h-1zM435 308h1v1h-1zM435 313h1v1h-1zM435 318h1v1h-1zM435 323h1v1h-1zM435 328h1v1h-1zM435 333h1v1h-1zM435 338h1v1h-1zM435 343h1v1h-1zM435 348h1v1h-1zM435 353h1v1h-1zM435 358h1v1h-1zM435 363h1v1h-1zM435 368h1v1h-1zM435 373h1v1h-1zM435 378h1v1h-1zM435 383h1v1h-1zM435 388h1v1h-1zM435 393h1v1h-1zM435 398h1v1h-1zM525 253h1v1h-1zM525 258h1v1h-1zM525 263h1v1h-1zM525 268h1v1h-1zM525 273h1v1h-1zM525 278h1v1h-1zM525 283h1v1h-1zM525 288h1v1h-1zM525 293h1v1h-1zM525 298h1v1h-1zM525 303h1v1h-1zM525 308h1v1h-1zM525 313h1v1h-1zM525 318h1v1h-1zM525 323h1v1h-1zM525 328h1v1h-1zM525 333h1v1h-1zM525 338h1v1h-1zM525 343h1v1h-1zM525 348h1v1h-1zM525 353h1v1h-1zM525 358h1v1h-1zM525 363h1v1h-1zM525 368h1v1h-1zM525 373h1v1h-1zM525 378h1v1h-1zM525 383h1v1h-1zM525 388h1v1h-1zM525 393h1v1h-1zM525 398h1v1h-1zM80 252h1v1h-1zM85 252h1v1h-1zM90 252h1v1h-1zM95 252h1v1h-1zM100 252h1v1h-1zM105 252h1v1h-1zM110 252h1v1h-1zM115 252h1v1h-1zM120 252h1v1h-1zM125 252h1v1h-1zM130 252h1v1h-1zM135 252h1v1h-1zM140 252h1v1h-1zM145 252h1v1h-1zM150 252h1v1h-1zM155 252h1v1h-1zM160 252h1v1h-1zM165 252h1v1h-1zM170 252h1v1h-1zM175 252h1v1h-1zM180 252h1v1h-1zM185 252h1v1h-1zM190 252h1v1h-1zM195 252h1v1h-1zM200 252h1v1h-1zM205 252h1v1h-1zM210 252h1v1h-1zM215 252h1v1h-1zM220 252h1v1h-1zM225 252h1v1h-1zM230 252h1v1h-1zM235 252h1v1h-1zM240 252h1v1h-1zM245 252h1v1h-1zM250 252h1v1h-1zM255 252h1v1h-1zM260 252h1v1h-1zM265 252h1v1h-1zM270 252h1v1h-1zM275 252h1v1h-1zM280 252h1v1h-1zM285 252h1v1h-1zM290 252h1v1h-1zM295 252h1v1h-1zM300 252h1v1h-1zM305 252h1v1h-1zM310 252h1v1h-1zM315 252h1v1h-1zM320 252h1v1h-1zM325 252h1v1h-1zM330 252h1v1h-1zM335 252h1v1h-1zM340 252h1v1h-1zM345 252h1v1h-1zM350 252h1v1h-1zM355 252h1v1h-1zM360 252h1v1h-1zM365 252h1v1h-1zM370 252h1v1h-1zM375 252h1v1h-1zM380 252h1v1h-1zM385 252h1v1h-1zM390 252h1v1h-1zM395 252h1v1h-1zM400 252h1v1h-1zM405 252h1v1h-1zM410 252h1v1h-1zM415 252h1v1h-1zM420 252h1v1h-1zM425 252h1v1h-1zM430 252h1v1h-1zM435 252h1v1h-1zM440 252h1v1h-1zM445 252h1v1h-1zM450 252h1v1h-1zM455 252h1v1h-1zM460 252h1v1h-1zM465 252h1v1h-1zM470 252h1v1h-1zM475 252h1v1h-1zM480 252h1v1h-1zM485 252h1v1h-1zM490 252h1v1h-1zM495 252h1v1h-1zM500 252h1v1h-1zM505 252h1v1h-1zM510 252h1v1h-1zM515 252h1v1h-1zM520 252h1v1h-1zM525 252h1v1h-1zM530 252h1v1h-1zM535 252h1v1h-1zM540 252h1v1h-1zM80 288h1v1h-1zM85 288h1v1h-1zM90 288h1v1h-1zM95 288h1v1h-1zM100 288h1v1h-1zM105 288h1v1h-1zM110 288h1v1h-1zM115 288h1v1h-1zM120 288h1v1h-1zM125 288h1v1h-1zM130 288h1v1h-1zM135 288h1v1h-1zM140 288h1v1h-1zM145 288h1v1h-1zM150 288h1v1h-1zM155 288h1v1h-1zM160 288h1v1h-1zM165 288h1v1h-1zM170 288h1v1h-1zM175 288h1v1h-1zM180 288h1v1h-1zM185 288h1v1h-1zM190 288h1v1h-1zM195 288h1v1h-1zM200 288h1v1h-1zM205 288h1v1h-1zM210 288h1v1h-1zM215 288h1v1h-1zM220 288h1v1h-1zM225 288h1v1h-1zM230 288h1v1h-1zM235 288h1v1h-1zM240 288h1v1h-1zM245 288h1v1h-1zM250 288h1v1h-1zM255 288h1v1h-1zM260 288h1v1h-1zM265 288h1v1h-1zM270 288h1v1h-1zM275 288h1v1h-1zM280 288h1v1h-1zM285 288h1v1h-1zM290 288h1v1h-1zM295 288h1v1h-1zM300 288h1v1h-1zM305 288h1v1h-1zM310 288h1v1h-1zM315 288h1v1h-1zM320 288h1v1h-1zM325 288h1v1h-1zM330 288h1v1h-1zM335 288h1v1h-1zM340 288h1v1h-1zM345 288h1v1h-1zM350 288h1v1h-1zM355 288h1v1h-1zM360 288h1v1h-1zM365 288h1v1h-1zM370 288h1v1h-1zM375 288h1v1h-1zM380 288h1v1h-1zM385 288h1v1h-1zM390 288h1v1h-1zM395 288h1v1h-1zM400 288h1v1h-1zM405 288h1v1h-1zM410 288h1v1h-1zM415 288h1v1h-1zM420 288h1v1h-1zM425 288h1v1h-1zM430 288h1v1h-1zM435 288h1v1h-1zM440 288h1v1h-1zM445 288h1v1h-1zM450 288h1v1h-1zM455 288h1v1h-1zM460 288h1v1h-1zM465 288h1v1h-1zM470 288h1v1h-1zM475 288h1v1h-1zM480 288h1v1h-1zM485 288h1v1h-1zM490 288h1v1h-1zM495 288h1v1h-1zM500 288h1v1h-1zM505 288h1v1h-1zM510 288h1v1h-1zM515 288h1v1h-1zM520 288h1v1h-1zM525 288h1v1h-1zM530 288h1v1h-1zM535 288h1v1h-1zM540 288h1v1h-1zM80 325h1v1h-1zM85 325h1v1h-1zM90 325h1v1h-1zM95 325h1v1h-1zM100 325h1v1h-1zM105 325h1v1h-1zM110 325h1v1h-1zM115 325h1v1h-1zM120 325h1v1h-1zM125 325h1v1h-1zM130 325h1v1h-1zM135 325h1v1h-1zM140 325h1v1h-1zM145 325h1v1h-1zM150 325h1v1h-1zM155 325h1v1h-1zM160 325h1v1h-1zM165 325h1v1h-1zM170 325h1v1h-1zM175 325h1v1h-1zM180 325h1v1h-1zM185 325h1v1h-1zM190 325h1v1h-1zM195 325h1v1h-1zM200 325h1v1h-1zM205 325h1v1h-1zM210 325h1v1h-1zM215 325h1v1h-1zM220 325h1v1h-1zM225 325h1v1h-1zM230 325h1v1h-1zM235 325h1v1h-1zM240 325h1v1h-1zM245 325h1v1h-1zM250 325h1v1h-1zM255 325h1v1h-1zM260 325h1v1h-1zM265 325h1v1h-1zM270 325h1v1h-1zM275 325h1v1h-1zM280 325h1v1h-1zM285 325h1v1h-1zM290 325h1v1h-1zM295 325h1v1h-1zM300 325h1v1h-1zM305 325h1v1h-1zM310 325h1v1h-1zM315 325h1v1h-1zM320 325h1v1h-1zM325 325h1v1h-1zM330 325h1v1h-1zM335 325h1v1h-1zM340 325h1v1h-1zM345 325h1v1h-1zM350 325h1v1h-1zM355 325h1v1h-1zM360 325h1v1h-1zM365 325h1v1h-1zM370 325h1v1h-1zM375 325h1v1h-1zM380 325h1v1h-1zM385 325h1v1h-1zM390 325h1v1h-1zM395 325h1v1h-1zM400 325h1v1h-1zM405 325h1v1h-1zM410 325h1v1h-1zM415 325h1v1h-1zM420 325h1v1h-1zM425 325h1v1h-1zM430 325h1v1h-1zM435 325h1v1h-1zM440 325h1v1h-1zM445 325h1v1h-1zM450 325h1v1h-1zM455 325h1v1h-1zM460 325h1v1h-1zM465 325h1v1h-1zM470 325h1v1h-1zM475 325h1v1h-1zM480 325h1v1h-1zM485 325h1v1h-1zM490 325h1v1h-1zM495 325h1v1h-1zM500 325h1v1h-1zM505 325h1v1h-1zM510 325h1v1h-1zM515 325h1v1h-1zM520 325h1v1h-1zM525 325h1v1h-1zM530 325h1v1h-1zM535 325h1v1h-1zM540 325h1v1h-1zM80 362h1v1h-1zM85 362h1v1h-1zM90 362h1v1h-1zM95 362h1v1h-1zM100 362h1v1h-1zM105 362h1v1h-1zM110 362h1v1h-1zM115 362h1v1h-1zM120 362h1v1h-1zM125 362h1v1h-1zM130 362h1v1h-1zM135 362h1v1h-1zM140 362h1v1h-1zM145 362h1v1h-1zM150 362h1v1h-1zM155 362h1v1h-1zM160 362h1v1h-1zM165 362h1v1h-1zM170 362h1v1h-1zM175 362h1v1h-1zM180 362h1v1h-1zM185 362h1v1h-1zM190 362h1v1h-1zM195 362h1v1h-1zM200 362h1v1h-1zM205 362h1v1h-1zM210 362h1v1h-1zM215 362h1v1h-1zM220 362h1v1h-1zM225 362h1v1h-1zM230 362h1v1h-1zM235 362h1v1h-1zM240 362h1v1h-1zM245 362h1v1h-1zM250 362h1v1h-1zM255 362h1v1h-1zM260 362h1v1h-1zM265 362h1v1h-1zM270 362h1v1h-1zM275 362h1v1h-1zM280 362h1v1h-1zM285 362h1v1h-1zM290 362h1v1h-1zM295 362h1v1h-1zM300 362h1v1h-1zM305 362h1v1h-1zM310 362h1v1h-1zM315 362h1v1h-1zM320 362h1v1h-1zM325 362h1v1h-1zM330 362h1v1h-1zM335 362h1v1h-1zM340 362h1v1h-1zM345 362h1v1h-1zM350 362h1v1h-1zM355 362h1v1h-1zM360 362h1v1h-1zM365 362h1v1h-1zM370 362h1v1h-1zM375 362h1v1h-1zM380 362h1v1h-1zM385 362h1v1h-1zM390 362h1v1h-1zM395 362h1v1h-1zM400 362h1v1h-1zM405 362h1v1h-1zM410 362h1v1h-1zM415 362h1v1h-1zM420 362h1v1h-1zM425 362h1v1h-1zM430 362h1v1h-1zM435 362h1v1h-1zM440 362h1v1h-1zM445 362h1v1h-1zM450 362h1v1h-1zM455 362h1v1h-1zM460 362h1v1h-1zM465 362h1v1h-1zM470 362h1v1h-1zM475 362h1v1h-1zM480 362h1v1h-1zM485 362h1v1h-1zM490 362h1v1h-1zM495 362h1v1h-1zM500 362h1v1h-1zM505 362h1v1h-1zM510 362h1v1h-1zM515 362h1v1h-1zM520 362h1v1h-1zM525 362h1v1h-1zM530 362h1v1h-1zM535 362h1v1h-1zM540 362h1v1h-1zM80 399h1v1h-1zM85 399h1v1h-1zM90 399h1v1h-1zM95 399h1v1h-1zM100 399h1v1h-1zM105 399h1v1h-1zM110 399h1v1h-1zM115 399h1v1h-1zM120 399h1v1h-1zM125 399h1v1h-1zM130 399h1v1h-1zM135 399h1v1h-1zM140 399h1v1h-1zM145 399h1v1h-1zM150 399h1v1h-1zM155 399h1v1h-1zM160 399h1v1h-1zM165 399h1v1h-1zM170 399h1v1h-1zM175 399h1v1h-1zM180 399h1v1h-1zM185 399h1v1h-1zM190 399h1v1h-1zM195 399h1v1h-1zM200 399h1v1h-1zM205 399h1v1h-1zM210 399h1v1h-1zM215 399h1v1h-1zM220 399h1v1h-1zM225 399h1v1h-1zM230 399h1v1h-1zM235 399h1v1h-1zM240 399h1v1h-1zM245 399h1v1h-1zM250 399h1v1h-1zM255 399h1v1h-1zM260 399h1v1h-1zM265 399h1v1h-1zM270 399h1v1h-1zM275 399h1v1h-1zM280 399h1v1h-1zM285 399h1v1h-1zM290 399h1v1h-1zM295 399h1v1h-1zM300 399h1v1h-1zM305 399h1v1h-1zM310 399h1v1h-1zM315 399h1v1h-1zM320 399h1v1h-1zM325 399h1v1h-1zM330 399h1v1h-1zM335 399h1v1h-1zM340 399h1v1h-1zM345 399h1v1h-1zM350 399h1v1h-1zM355 399h1v1h-1zM360 399h1v1h-1zM365 399h1v1h-1zM370 399h1v1h-1zM375 399h1v1h-1zM380 399h1v1h-1zM385 399h1v1h-1zM390 399h1v1h-1zM395 399h1v1h-1zM400 399h1v1h-1zM405 399h1v1h-1zM410 399h1v1h-1zM415 399h1v1h-1zM420 399h1v1h-1zM425 399h1v1h-1zM430 399h1v1h-1zM435 399h1v1h-1zM440 399h1v1h-1zM445 399h1v1h-1zM450 399h1v1h-1zM455 399h1v1h-1zM460 399h1v1h-1zM465 399h1v1h-1zM470 399h1v1h-1zM475 399h1v1h-1zM480 399h1v1h-1zM485 399h1v1h-1zM490 399h1v1h-1zM495 399h1v1h-1zM500 399h1v1h-1zM505 399h1v1h-1zM510 399h1v1h-1zM515 399h1v1h-1zM520 399h1v1h-1zM525 399h1v1h-1zM530 399h1v1h-1zM535 399h1v1h-1zM540 399h1v1h-1z" fill="#000"/>
</g>
<g shape-rendering="crispEdges">
<path d="M77.5 252.5V401.5H543.5" fill="none" stroke="#000"/>
<path d="M77.5 252.5h6" stroke="#000"/>
<path d="M77.5 288.5h6" stroke="#000"/>
<path d="M77.5 325.5h6" stroke="#000"/>
<path d="M77.5 362.5h6" stroke="#000"/>
<path d="M77.5 399.5h6" stroke="#000"/>
<path d="M77.5 401.5v-6" stroke="#000"/>
<path d="M167.5 401.5v-6" stroke="#000"/>
<path d="M256.5 401.5v-6" stroke="#000"/>
<path d="M346.5 401.5v-6" stroke="#000"/>
<path d="M435.5 401.5v-6" stroke="#000"/>
<path d="M525.5 401.5v-6" stroke="#000"/>
<path d="M77 252h1v1h-1zM79 255h1v1h-1zM81 256h1v1h-1zM78 260h1v1h-1zM114 260h2v3h-2zM119 271h2v3h-2zM134 271h3v2h-3zM175 282h3v3h-3zM177 285h3v3h-3zM193 286h2v3h-2zM219 281h3v3h-3zM226 290h3v3h-3zM228 283h3v3h-3zM232 269h2v3h-2zM232 276h2v3h-2zM268 264h2v2h-2z" fill="#0000ab"/>
<path d="M78 252h1v1h-1zM77 255h1v1h-1zM77 259h1v1h-1zM236 255h2v2h-2zM246 270h2v2h-2zM264 279h2v2h-2zM298 283h2v3h-2zM302 271h2v2h-2zM301 300h3v3h-3zM306 292h2v3h-2z" fill="#0000a4"/>
<path d="M80 252h1v1h-1zM77 256h1v1h-1zM81 257h1v1h-1zM96 265h3v3h-3zM108 265h3v3h-3zM128 266h2v2h-2zM154 276h3v3h-3zM172 276h3v2h-3zM175 265h3v3h-3zM187 275h2v3h-2zM202 268h3v3h-3zM205 276h3v3h-3zM222 265h3v3h-3zM225 274h2v2h-2zM229 264h3v3h-3z" fill="#0000b4"/>
<path d="M81 252h1v1h-1zM77 253h1v1h-1zM79 259h1v1h-1zM233 287h2v3h-2zM236 258h3v3h-3zM247 289h2v2h-2zM298 280h2v2h-2zM302 275h2v2h-2zM345 276h2v3h-2zM372 286h2v3h-2zM397 276h2v3h-2zM433 297h3v3h-3zM458 315h2v3h-2zM466 312h2v3h-2zM503 271h2v3h-2zM502 285h2v3h-2zM506 280h2v2h-2zM518 315h3v3h-3z" fill="#0000a0"/>
<path d="M78 253h1v1h-1zM93 256h3v3h-3zM111 266h3v3h-3zM140 277h3v3h-3zM151 273h3v2h-3zM187 286h2v3h-2zM195 285h2v3h-2zM235 287h2v2h-2zM275 266h2v2h-2zM276 293h2v3h-2zM279 275h2v2h-2zM291 304h2v2h-2z" fill="#0000b0"/>
<path d="M80 253h1v1h-1zM80 258h1v1h-1zM196 270h3v3h-3zM222 272h3v3h-3zM236 265h2v3h-2zM253 271h2v2h-2z" fill="#0000af"/>
<path d="M77 254h1v1h-1zM81 255h1v1h-1zM108 268h2v3h-2zM143 262h3v2h-3zM157 271h3v3h-3zM183 287h2v3h-2zM225 280h3v2h-3z" fill="#0000b8"/>
<path d="M78 254h1v1h-1zM78 261h1v1h-1zM79 268h1v1h-1zM108 262h3v2h-3zM116 263h3v3h-3zM175 279h3v3h-3zM175 290h2v3h-2zM193 266h3v2h-3zM195 282h2v3h-2zM201 286h3v3h-3zM229 254h2v3h-2z" fill="#0000c5"/>
<path d="M79 254h1v1h-1zM80 260h1v1h-1zM79 267h1v1h-1zM93 273h3v3h-3zM105 277h3v3h-3zM111 280h3v3h-3zM163 276h3v2h-3zM172 265h2v3h-2zM183 293h3v3h-3zM212 283h3v3h-3zM229 275h3v3h-3zM239 286h3v3h-3zM242 293h2v2h-2zM262 300h2v2h-2zM272 272h2v3h-2zM278 293h2v3h-2z" fill="#0000b6"/>
<path d="M81 254h1v1h-1zM104 259h2v2h-2zM111 277h3v3h-3zM134 284h2v2h-2zM148 280h2v3h-2zM178 266h2v3h-2zM187 279h3v3h-3zM195 289h2v3h-2zM205 266h3v3h-3zM209 266h3v3h-3zM216 266h2v3h-2zM222 269h2v3h-2zM226 284h3v2h-3zM243 267h2v3h-2z" fill="#0000c1"/>
<path d="M78 255h1v1h-1zM77 264h1v1h-1zM221 294h3v3h-3zM229 272h2v3h-2zM235 280h3v2h-3zM301 289h2v2h-2zM310 265h2v3h-2zM317 275h2v3h-2zM317 289h2v3h-2zM353 278h2v3h-2zM364 293h2v3h-2zM385 294h2v3h-2zM401 291h2v3h-2zM405 277h2v3h-2zM412 295h3v3h-3zM437 277h2v3h-2zM440 269h2v3h-2zM441 304h3v2h-3zM444 308h2v2h-2zM449 275h2v3h-2zM477 309h2v2h-2zM482 291h2v2h-2zM486 285h2v2h-2zM493 319h3v3h-3zM506 269h2v3h-2zM506 272h2v3h-2zM511 268h2v2h-2zM515 287h2v2h-2z" fill="#0000a3"/>
<path d="M80 255h1v1h-1zM219 278h2v3h-2zM243 263h2v3h-2zM257 284h2v3h-2zM268 289h3v3h-3zM279 285h2v3h-2zM290 275h2v3h-2z" fill="#0000a5"/>
<path d="M78 256h1v1h-1zM80 261h1v1h-1zM80 263h1v1h-1zM80 264h1v1h-1zM77 272h1v1h-1zM78 272h1v1h-1zM232 280h2v3h-2zM236 273h2v2h-2zM243 271h3v3h-3zM254 285h3v3h-3zM284 300h2v2h-2zM314 298h2v2h-2zM321 277h3v3h-3zM325 269h3v3h-3zM332 287h3v3h-3zM345 272h3v2h-3zM346 303h3v3h-3zM348 307h2v3h-2zM352 271h2v3h-2zM381 285h2v2h-2zM389 285h2v2h-2zM401 294h2v3h-2zM408 272h3v2h-3zM409 294h2v3h-2zM424 271h2v2h-2zM441 293h2v3h-2zM450 312h2v2h-2zM461 300h2v2h-2zM465 283h2v3h-2zM491 321h2v3h-2zM495 276h2v3h-2zM499 311h2v2h-2zM507 287h2v3h-2zM510 307h2v3h-2zM510 318h3v2h-3zM519 292h3v2h-3zM518 298h2v3h-2zM518 302h2v2h-2z" fill="#0000a1"/>
<path d="M80 256h1v1h-1zM79 260h1v1h-1zM97 254h3v3h-3zM98 257h3v3h-3zM122 267h3v3h-3zM131 259h2v3h-2zM134 275h2v3h-2zM239 293h3v3h-3zM256 295h2v3h-2z" fill="#0000ba"/>
<path d="M77 257h1v1h-1zM79 261h1v1h-1zM78 263h1v1h-1zM108 271h3v3h-3zM148 284h3v3h-3zM169 284h2v3h-2zM202 272h2v3h-2zM208 278h2v2h-2zM214 293h2v3h-2zM218 267h2v2h-2zM239 283h2v3h-2zM247 286h2v3h-2zM253 281h2v2h-2zM271 286h2v2h-2zM276 273h3v2h-3zM282 267h2v3h-2z" fill="#0000b1"/>
<path d="M78 257h1v1h-1zM78 258h1v1h-1zM93 269h2v3h-2zM148 269h3v3h-3zM158 282h2v3h-2zM160 270h2v3h-2zM160 274h2v3h-2zM218 271h3v3h-3zM219 291h2v3h-2zM221 290h2v3h-2zM242 300h3v3h-3zM257 281h2v2h-2zM260 269h2v2h-2zM264 269h2v2h-2zM268 281h2v3h-2zM271 290h2v2h-2zM276 289h3v2h-3zM301 278h2v3h-2z" fill="#0000aa"/>
<path d="M79 257h1v1h-1zM102 265h3v3h-3zM102 268h3v3h-3zM119 285h2v3h-2zM166 266h3v3h-3zM208 285h2v3h-2zM235 297h2v2h-2zM250 278h2v3h-2z" fill="#0000bf"/>
<path d="M80 257h1v1h-1zM78 264h1v1h-1zM77 267h1v1h-1zM120 261h2v3h-2zM199 269h3v3h-3zM229 260h3v3h-3zM247 295h2v2h-2zM253 274h2v3h-2zM256 298h2v2h-2zM269 296h2v3h-2zM279 267h2v3h-2zM293 293h3v2h-3z" fill="#0000a8"/>
<path d="M77 258h1v1h-1zM107 281h2v3h-2zM122 273h3v3h-3zM164 286h3v2h-3zM169 281h2v3h-2zM184 276h2v3h-2zM193 276h3v3h-3zM202 282h2v3h-2zM201 290h2v3h-2zM215 277h3v3h-3zM250 271h2v3h-2zM254 294h2v3h-2z" fill="#0000bc"/>
<path d="M78 259h1v1h-1zM78 267h1v1h-1zM137 264h3v3h-3zM139 266h3v2h-3zM215 273h2v2h-2zM219 285h2v3h-2zM232 273h2v3h-2zM246 267h2v3h-2zM254 298h2v2h-2zM261 283h3v3h-3zM279 270h2v3h-2zM279 278h2v2h-2z" fill="#0000b2"/>
<path d="M80 259h1v1h-1zM123 283h2v3h-2zM134 268h2v3h-2zM149 262h3v3h-3zM178 272h3v3h-3zM219 275h2v3h-2zM236 269h3v2h-3zM242 282h2v3h-2z" fill="#0000bd"/>
<path d="M77 260h1v1h-1zM78 265h1v1h-1zM78 266h1v1h-1zM79 270h1v1h-1zM113 282h2v3h-2zM152 277h3v2h-3zM164 280h2v3h-2zM221 283h3v3h-3zM238 254h3v3h-3z" fill="#0000c2"/>
<path d="M77 261h1v1h-1zM79 262h1v1h-1zM79 265h1v1h-1zM117 270h2v3h-2zM117 278h2v3h-2zM192 263h3v3h-3zM212 276h2v3h-2zM213 291h2v2h-2zM235 294h2v3h-2zM239 268h3v3h-3z" fill="#0000c0"/>
<path d="M77 262h1v1h-1zM130 283h2v3h-2zM137 260h3v3h-3zM152 280h3v3h-3zM178 278h3v3h-3zM183 283h2v3h-2zM199 287h2v3h-2zM231 259h2v3h-2zM271 282h2v2h-2z" fill="#0000b9"/>
<path d="M78 262h1v1h-1zM157 268h2v3h-2zM177 288h2v3h-2zM183 290h2v2h-2zM199 278h3v3h-3zM228 287h3v3h-3zM233 294h3v3h-3zM235 290h3v2h-3z" fill="#0000c7"/>
<path d="M80 262h1v1h-1zM79 264h1v1h-1zM77 271h1v1h-1zM78 271h1v1h-1zM93 263h3v3h-3zM107 277h3v3h-3zM113 275h3v3h-3zM140 274h2v3h-2zM154 280h3v3h-3zM181 269h3v3h-3zM181 281h3v3h-3zM202 279h3v3h-3zM205 269h2v2h-2zM206 291h3v3h-3zM212 273h2v3h-2zM226 294h2v3h-2zM228 294h2v3h-2zM254 292h2v3h-2zM263 297h2v3h-2z" fill="#0000ae"/>
<path d="M77 263h1v1h-1zM250 275h2v3h-2zM261 294h2v3h-2zM264 272h2v3h-2zM264 286h2v3h-2zM271 293h2v3h-2zM290 282h3v2h-3zM291 293h2v3h-2zM293 296h3v3h-3zM305 263h2v2h-2zM309 292h2v3h-2zM329 288h2v3h-2zM333 279h2v3h-2zM370 307h2v3h-2zM377 297h2v3h-2zM392 271h2v2h-2zM393 275h2v3h-2zM400 271h2v3h-2zM401 304h2v3h-2zM404 309h2v2h-2zM412 288h2v3h-2zM412 302h2v2h-2zM416 272h2v2h-2zM425 278h2v3h-2zM445 279h3v2h-3zM449 283h2v3h-2zM461 292h2v3h-2zM460 319h3v3h-3zM486 279h2v3h-2zM490 294h2v2h-2zM511 296h3v3h-3zM516 319h3v3h-3z" fill="#00009f"/>
<path d="M77 265h1v1h-1zM78 268h1v1h-1zM99 268h3v3h-3zM105 281h2v3h-2zM110 259h3v3h-3zM113 285h3v3h-3zM119 275h3v3h-3zM128 269h2v3h-2zM154 287h3v3h-3zM169 274h3v3h-3zM171 286h3v3h-3zM193 273h2v3h-2zM193 283h2v3h-2zM206 284h2v3h-2zM206 294h3v3h-3zM240 297h2v3h-2zM240 301h2v2h-2zM263 293h2v2h-2zM278 297h2v2h-2z" fill="#0000b5"/>
<path d="M80 265h1v1h-1zM93 266h3v2h-3zM105 266h3v3h-3zM123 286h2v3h-2zM128 276h3v3h-3zM142 276h2v3h-2zM157 264h2v3h-2zM181 273h3v3h-3zM181 284h3v3h-3zM202 265h3v2h-3zM208 274h3v3h-3zM261 297h3v3h-3zM294 282h3v3h-3zM298 290h3v2h-3zM301 296h2v3h-2z" fill="#0000a9"/>
<path d="M77 266h1v1h-1zM77 268h1v1h-1zM92 253h3v3h-3zM96 272h2v3h-2zM136 274h2v3h-2zM163 267h3v3h-3zM169 271h2v3h-2zM239 272h3v3h-3zM261 286h2v2h-2zM272 268h2v2h-2zM294 289h2v2h-2z" fill="#0000ad"/>
<path d="M80 267h1v1h-1zM232 265h2v2h-2zM242 278h2v3h-2zM250 267h2v2h-2zM249 289h3v2h-3zM272 279h3v3h-3zM329 279h2v2h-2zM337 280h3v3h-3zM344 268h2v3h-2zM365 273h2v2h-2zM365 287h2v3h-2zM370 303h2v3h-2zM386 305h2v2h-2zM397 283h2v2h-2zM396 313h2v3h-2zM409 290h2v3h-2zM413 280h3v2h-3zM416 279h3v2h-3zM428 308h2v2h-2zM433 290h2v3h-2zM433 294h2v3h-2zM454 280h3v3h-3zM453 303h2v3h-2zM460 311h3v2h-3zM465 273h2v3h-2zM469 293h2v3h-2zM474 297h3v3h-3zM477 301h3v2h-3zM477 315h2v2h-2zM495 279h2v3h-2zM519 278h2v3h-2z" fill="#00009e"/>
<path d="M77 269h1v1h-1zM117 281h3v2h-3zM122 261h3v2h-3zM140 281h3v3h-3zM154 283h3v3h-3zM160 267h3v3h-3zM172 269h3v3h-3zM212 266h2v3h-2zM243 274h2v2h-2z" fill="#0000b3"/>
<path d="M78 269h1v1h-1zM160 290h3v3h-3zM171 289h3v3h-3zM183 280h2v3h-2zM208 281h2v3h-2zM215 270h3v3h-3zM236 262h2v3h-2zM265 265h2v3h-2z" fill="#0000b7"/>
<path d="M77 270h1v1h-1zM105 263h3v3h-3zM117 285h3v2h-3zM128 259h2v3h-2zM128 273h3v3h-3zM142 283h3v2h-3zM152 287h3v3h-3zM158 289h2v3h-2zM166 276h3v3h-3zM213 294h3v2h-3zM222 276h3v3h-3zM221 287h2v3h-2zM239 276h3v3h-3zM242 286h3v3h-3zM245 257h2v3h-2zM246 276h3v3h-3z" fill="#0000c3"/>
<path d="M78 270h1v1h-1zM99 271h2v3h-2zM136 277h2v3h-2zM143 266h2v2h-2zM178 269h2v3h-2zM184 263h2v3h-2zM212 287h3v3h-3zM225 277h3v3h-3zM250 282h2v3h-2zM254 288h2v3h-2z" fill="#0000be"/>
<path d="M79 271h1v1h-1zM261 290h3v3h-3zM283 277h2v3h-2zM290 267h2v2h-2zM290 278h2v3h-2zM306 295h2v2h-2zM325 282h2v3h-2zM349 271h2v2h-2zM348 294h3v2h-3zM353 274h2v3h-2zM369 296h2v2h-2zM409 298h2v2h-2zM436 318h2v2h-2zM465 276h2v3h-2zM474 294h3v3h-3zM482 284h2v3h-2zM494 289h2v2h-2zM494 309h2v3h-2zM498 277h3v2h-3zM498 289h2v2h-2zM499 303h2v3h-2zM502 292h2v3h-2z" fill="#0000a2"/>
<path d="M77 273h1v1h-1zM78 273h1v1h-1zM77 274h1v1h-1zM78 274h1v1h-1zM77 275h1v1h-1zM78 275h1v1h-1z" fill="#00b2ff"/>
<path d="M93 260h3v2h-3zM108 259h2v3h-2zM140 270h3v3h-3zM151 262h2v2h-2zM160 287h2v3h-2zM215 280h3v3h-3z" fill="#0000d4"/>
<path d="M94 276h3v3h-3z" fill="#0036ff"/>
<path d="M96 257h3v2h-3zM114 271h3v3h-3zM116 266h3v3h-3zM164 283h2v3h-2zM175 276h2v3h-2zM187 282h3v3h-3zM199 281h3v3h-3zM209 270h3v3h-3zM215 287h2v3h-2zM222 280h3v2h-3zM225 267h3v3h-3z" fill="#0000cc"/>
<path d="M96 269h3v3h-3zM122 270h3v3h-3zM130 279h2v2h-2zM206 287h3v3h-3zM212 280h3v3h-3z" fill="#0000d6"/>
<path d="M96 276h2v3h-2zM205 262h3v3h-3zM209 259h3v3h-3z" fill="#001eff"/>
<path d="M95 280h3v3h-3z" fill="#0073ff"/>
<path d="M95 284h3v3h-3zM224 254h2v2h-2z" fill="#0032ff"/>
<path d="M99 264h2v3h-2zM119 282h2v3h-2zM160 284h3v3h-3zM196 266h2v3h-2z" fill="#0000d8"/>
<path d="M99 275h3v2h-3z" fill="#0026ff"/>
<path d="M100 279h3v3h-3z" fill="#004fff"/>
<path d="M102 254h3v3h-3zM120 264h3v2h-3zM134 278h3v3h-3zM142 269h3v3h-3zM149 265h3v2h-3zM158 275h2v3h-2zM158 285h3v3h-3zM187 264h2v3h-2zM208 288h2v3h-2z" fill="#0000cd"/>
<path d="M102 257h3v3h-3zM102 261h3v3h-3zM172 272h2v3h-2zM177 282h2v3h-2zM199 275h3v3h-3z" fill="#0000d0"/>
<path d="M101 272h3v2h-3zM120 257h3v3h-3zM122 258h3v3h-3zM129 280h3v3h-3zM166 269h3v3h-3zM181 288h3v3h-3z" fill="#0000d5"/>
<path d="M101 276h3v3h-3zM161 260h3v2h-3zM186 260h3v3h-3z" fill="#003bff"/>
<path d="M101 280h2v3h-2z" fill="#0037ff"/>
<path d="M104 255h3v2h-3z" fill="#0008ff"/>
<path d="M105 269h3v3h-3zM108 255h2v2h-2zM123 280h3v2h-3zM142 279h3v3h-3zM148 273h3v3h-3zM154 272h3v3h-3zM177 292h2v3h-2zM196 274h3v3h-3zM196 278h3v3h-3z" fill="#0000c8"/>
<path d="M105 273h3v3h-3zM111 274h3v3h-3zM122 255h2v3h-2zM131 276h3v3h-3zM142 286h3v3h-3zM151 266h2v3h-2zM199 265h2v3h-2z" fill="#0000da"/>
<path d="M107 274h3v3h-3zM131 262h3v3h-3zM143 259h2v3h-2zM158 279h3v3h-3zM160 277h3v3h-3zM165 286h3v3h-3zM184 266h2v3h-2zM199 284h2v3h-2z" fill="#0000ce"/>
<path d="M110 255h3v3h-3z" fill="#0000de"/>
<path d="M110 262h3v3h-3zM131 273h3v2h-3zM136 281h2v3h-2zM139 259h3v2h-3zM148 277h3v3h-3zM154 269h3v3h-3zM175 272h2v2h-2zM219 288h3v3h-3zM228 279h2v3h-2zM233 291h2v3h-2z" fill="#0000ca"/>
<path d="M111 284h3v3h-3z" fill="#0000ea"/>
<path d="M114 256h3v2h-3zM134 264h3v3h-3zM134 281h2v3h-2zM199 272h3v3h-3zM200 291h2v3h-2z" fill="#0000d7"/>
<path d="M114 264h3v3h-3zM131 266h3v3h-3zM133 261h3v3h-3zM142 273h2v3h-2zM155 265h2v3h-2zM160 280h3v2h-3zM172 279h3v3h-3zM180 262h3v3h-3zM212 269h2v3h-2z" fill="#0000d2"/>
<path d="M114 267h3v3h-3zM151 270h3v2h-3zM163 273h3v3h-3zM175 268h2v3h-2zM184 273h2v3h-2zM187 271h3v3h-3z" fill="#0000d1"/>
<path d="M113 278h3v3h-3zM152 283h3v2h-3zM169 267h3v3h-3zM169 278h3v2h-3zM187 267h3v3h-3zM202 275h2v3h-2zM228 290h2v3h-2z" fill="#0000cb"/>
<path d="M116 255h2v3h-2zM120 254h3v3h-3zM199 262h3v2h-3z" fill="#0000e9"/>
<path d="M116 259h3v3h-3zM193 270h3v3h-3zM219 295h2v2h-2zM257 273h3v3h-3zM283 297h3v3h-3z" fill="#0000ac"/>
<path d="M119 268h3v3h-3zM122 264h3v3h-3zM133 258h3v2h-3z" fill="#0000db"/>
<path d="M119 278h2v2h-2zM131 269h3v3h-3zM163 263h3v3h-3zM165 282h3v3h-3z" fill="#0000d9"/>
<path d="M128 256h3v2h-3zM180 255h3v3h-3z" fill="#0018ff"/>
<path d="M128 263h3v3h-3zM163 270h3v2h-3zM205 273h2v2h-2z" fill="#0000cf"/>
<path d="M132 255h2v3h-2z" fill="#002eff"/>
<path d="M133 254h3v3h-3zM218 257h2v2h-2z" fill="#0027ff"/>
<path d="M137 256h2v3h-2zM143 256h3v3h-3zM151 258h3v3h-3z" fill="#0014ff"/>
<path d="M137 267h2v3h-2zM175 286h3v2h-3zM225 271h3v2h-3zM238 261h2v3h-2zM239 279h3v3h-3zM249 297h3v3h-3z" fill="#0000c4"/>
<path d="M136 284h3v3h-3zM184 269h3v3h-3zM246 273h2v2h-2zM246 280h2v3h-2zM247 292h2v3h-2z" fill="#0000bb"/>
<path d="M139 255h3v2h-3z" fill="#003aff"/>
<path d="M139 262h3v2h-3zM166 273h3v3h-3zM171 283h2v3h-2zM200 294h3v3h-3z" fill="#0000d3"/>
<path d="M149 254h3v3h-3z" fill="#0061ff"/>
<path d="M149 258h2v3h-2z" fill="#0030ff"/>
<path d="M151 255h2v3h-2z" fill="#0062ff"/>
<path d="M155 257h2v3h-2z" fill="#0050ff"/>
<path d="M155 261h3v3h-3zM172 261h3v3h-3z" fill="#0006ff"/>
<path d="M157 254h3v3h-3zM222 261h2v3h-2zM225 260h3v3h-3z" fill="#0063ff"/>
<path d="M157 257h3v3h-3z" fill="#005cff"/>
<path d="M157 261h3v3h-3z" fill="#0000f2"/>
<path d="M161 254h2v2h-2z" fill="#0042ff"/>
<path d="M161 257h2v3h-2z" fill="#00a5ff"/>
<path d="M161 264h2v3h-2z" fill="#0004ff"/>
<path d="M162 253h3v3h-3z" fill="#001cff"/>
<path d="M163 260h3v3h-3z" fill="#0038ff"/>
<path d="M167 256h3v2h-3z" fill="#00a9ff"/>
<path d="M166 259h2v3h-2z" fill="#0043ff"/>
<path d="M166 263h2v3h-2zM181 266h3v2h-3zM188 289h3v3h-3zM215 283h3v3h-3zM215 290h2v3h-2z" fill="#0000c9"/>
<path d="M168 253h3v3h-3z" fill="#0046ff"/>
<path d="M168 257h3v3h-3zM174 258h2v3h-2z" fill="#0095ff"/>
<path d="M168 260h2v3h-2z" fill="#0028ff"/>
<path d="M169 264h2v2h-2z" fill="#0000f8"/>
<path d="M170 288h2v3h-2zM205 280h3v3h-3zM232 284h2v2h-2zM242 296h3v3h-3z" fill="#0000c6"/>
<path d="M173 254h3v3h-3z" fill="#0016ff"/>
<path d="M172 258h3v3h-3z" fill="#00daff"/>
<path d="M174 254h2v3h-2z" fill="#004bff"/>
<path d="M174 261h3v3h-3zM202 262h3v3h-3zM218 253h3v2h-3z" fill="#0053ff"/>
<path d="M178 255h2v3h-2z" fill="#0012ff"/>
<path d="M178 259h3v3h-3z" fill="#0041ff"/>
<path d="M178 262h3v3h-3z" fill="#0000f7"/>
<path d="M180 258h2v3h-2z" fill="#008cff"/>
<path d="M184 253h2v2h-2z" fill="#004aff"/>
<path d="M184 256h2v3h-2z" fill="#0091ff"/>
<path d="M186 256h2v3h-2z" fill="#0085ff"/>
<path d="M192 256h3v3h-3z" fill="#007eff"/>
<path d="M192 260h2v3h-2zM218 264h3v3h-3z" fill="#003eff"/>
<path d="M196 256h3v3h-3z" fill="#0040ff"/>
<path d="M196 259h3v3h-3z" fill="#000fff"/>
<path d="M196 263h2v3h-2z" fill="#0009ff"/>
<path d="M198 255h3v3h-3z" fill="#0024ff"/>
<path d="M203 255h2v3h-2z" fill="#0019ff"/>
<path d="M203 258h2v3h-2z" fill="#005eff"/>
<path d="M204 254h2v3h-2z" fill="#002bff"/>
<path d="M205 258h3v2h-3zM218 260h2v3h-2z" fill="#0066ff"/>
<path d="M209 255h2v3h-2z" fill="#0049ff"/>
<path d="M209 262h3v3h-3z" fill="#0002ff"/>
<path d="M208 292h2v3h-2zM229 268h3v3h-3zM242 289h3v3h-3zM253 267h2v3h-2zM257 287h3v3h-3zM260 266h2v3h-2zM269 293h3v3h-3zM283 290h2v2h-2zM297 269h2v2h-2zM298 287h2v3h-2zM298 294h2v3h-2zM306 298h2v3h-2zM309 278h3v3h-3zM309 285h2v3h-2zM313 269h2v3h-2zM313 272h2v3h-2z" fill="#0000a6"/>
<path d="M211 256h3v3h-3z" fill="#0055ff"/>
<path d="M211 259h2v3h-2z" fill="#001dff"/>
<path d="M211 263h3v2h-3z" fill="#0031ff"/>
<path d="M216 256h2v3h-2z" fill="#004eff"/>
<path d="M216 260h3v2h-3z" fill="#0075ff"/>
<path d="M216 263h3v3h-3z" fill="#001aff"/>
<path d="M223 254h3v3h-3z" fill="#0054ff"/>
<path d="M222 258h2v3h-2z" fill="#006bff"/>
<path d="M225 257h3v3h-3z" fill="#0047ff"/>
<path d="M225 264h3v3h-3z" fill="#0000f4"/>
<path d="M229 257h2v2h-2z" fill="#3871ff"/>
<path d="M231 255h2v2h-2z" fill="#3896ff"/>
<path d="M231 262h2v3h-2z" fill="#3869ff"/>
<path d="M235 283h3v3h-3zM246 283h3v3h-3zM256 291h2v2h-2zM305 274h2v3h-2zM329 272h2v3h-2zM369 293h2v3h-2zM381 275h2v3h-2zM400 274h2v3h-2zM420 287h2v3h-2zM429 268h2v3h-2zM429 287h3v3h-3zM445 293h2v2h-2zM470 275h3v3h-3zM469 312h2v3h-2zM485 308h2v2h-2zM494 303h2v3h-2z" fill="#00009d"/>
<path d="M238 257h3v3h-3zM514 268h3v3h-3z" fill="#387fff"/>
<path d="M238 265h3v3h-3zM243 259h2v3h-2zM249 293h2v3h-2zM257 270h3v3h-3zM276 281h2v3h-2zM283 293h2v2h-2zM309 295h3v3h-3zM321 273h2v2h-2zM321 286h3v3h-3zM329 297h2v2h-2zM333 276h2v3h-2zM340 297h2v3h-2zM346 299h2v2h-2zM353 296h2v3h-2zM356 301h2v3h-2zM365 290h2v2h-2zM385 301h2v3h-2zM416 276h2v3h-2zM421 280h2v2h-2zM424 275h3v3h-3zM454 272h2v2h-2zM457 289h2v3h-2zM473 277h2v3h-2zM477 305h2v2h-2zM486 292h3v3h-3zM491 314h2v3h-2zM498 270h2v3h-2zM503 275h2v2h-2zM506 276h2v2h-2zM514 272h2v2h-2zM519 288h2v2h-2z" fill="#00009c"/>
<path d="M243 256h2v3h-2z" fill="#38d8ff"/>
<path d="M244 259h2v3h-2zM481 270h2v3h-2z" fill="#38c8ff"/>
<path d="M245 254h2v3h-2z" fill="#38d4ff"/>
<path d="M246 260h3v3h-3z" fill="#38d6ff"/>
<path d="M246 263h2v2h-2z" fill="#38caff"/>
<path d="M247 255h2v3h-2z" fill="#3efffa"/>
<path d="M250 257h3v3h-3zM258 255h2v3h-2z" fill="#38e9ff"/>
<path d="M250 260h2v2h-2z" fill="#38e8ff"/>
<path d="M249 286h2v3h-2zM253 264h2v3h-2zM261 276h3v3h-3zM264 283h2v3h-2zM264 290h2v2h-2zM268 271h2v2h-2zM269 299h2v3h-2zM279 289h2v2h-2zM283 271h2v3h-2zM291 300h2v3h-2zM325 266h2v2h-2zM332 298h2v2h-2zM356 304h2v3h-2zM372 290h2v3h-2zM380 292h2v3h-2zM380 295h2v3h-2zM385 297h2v2h-2zM409 283h2v3h-2zM425 281h2v2h-2zM441 286h2v2h-2zM444 304h2v3h-2zM450 298h2v3h-2zM466 306h2v2h-2zM494 299h2v3h-2zM510 314h3v3h-3zM519 271h3v2h-3z" fill="#000099"/>
<path d="M252 254h2v3h-2zM320 255h2v3h-2z" fill="#38fbff"/>
<path d="M252 258h2v3h-2zM282 261h2v3h-2z" fill="#38e2ff"/>
<path d="M252 254h2v3h-2zM334 253h2v2h-2zM398 255h3v3h-3z" fill="#40fff7"/>
<path d="M253 258h2v3h-2z" fill="#38f2ff"/>
<path d="M253 261h2v2h-2zM350 258h2v2h-2zM406 255h2v2h-2z" fill="#52ffe5"/>
<path d="M253 278h3v3h-3zM283 274h2v2h-2zM283 287h2v3h-2z" fill="#0000a7"/>
<path d="M254 254h2v3h-2zM255 261h2v3h-2zM331 261h2v3h-2z" fill="#3bfffc"/>
<path d="M255 257h2v3h-2z" fill="#3cfffb"/>
<path d="M258 259h2v2h-2zM320 255h3v3h-3z" fill="#38fdff"/>
<path d="M258 262h2v3h-2zM376 257h2v2h-2zM376 271h3v3h-3z" fill="#38f9ff"/>
<path d="M257 266h2v3h-2zM261 280h2v2h-2zM283 284h3v3h-3zM305 281h2v2h-2zM314 291h3v2h-3zM314 294h2v3h-2zM322 302h3v3h-3zM333 271h2v3h-2zM357 272h2v3h-2zM357 281h2v3h-2zM361 293h2v2h-2zM361 301h2v2h-2zM396 300h2v2h-2zM412 291h2v3h-2zM417 290h2v3h-2zM420 298h2v3h-2zM432 275h2v3h-2zM442 307h3v3h-3zM457 278h3v3h-3zM490 273h2v2h-2zM490 290h3v3h-3zM516 323h2v2h-2z" fill="#000097"/>
<path d="M260 253h2v3h-2zM260 256h2v2h-2zM260 259h2v3h-2zM262 253h2v3h-2zM326 256h2v3h-2zM384 258h2v3h-2z" fill="#38f3ff"/>
<path d="M259 257h2v3h-2zM326 253h2v2h-2zM381 261h2v2h-2z" fill="#38f5ff"/>
<path d="M260 263h2v3h-2zM273 254h2v3h-2z" fill="#38ddff"/>
<path d="M261 273h2v2h-2zM268 274h2v3h-2zM302 267h2v3h-2zM306 288h3v2h-3zM308 302h2v2h-2zM324 298h2v3h-2zM420 308h3v3h-3zM450 302h2v3h-2zM457 282h3v3h-3zM461 281h2v2h-2zM474 304h2v3h-2zM474 311h3v3h-3zM478 285h2v3h-2zM482 295h2v2h-2zM485 318h2v3h-2zM493 322h2v3h-2zM499 314h3v3h-3zM514 275h2v3h-2z" fill="#000095"/>
<path d="M262 257h2v3h-2z" fill="#3afffd"/>
<path d="M265 254h2v3h-2z" fill="#38f0ff"/>
<path d="M265 258h2v3h-2z" fill="#48ffef"/>
<path d="M265 262h2v3h-2z" fill="#4cffeb"/>
<path d="M264 275h3v3h-3zM276 285h2v3h-2zM294 279h2v2h-2zM293 299h2v3h-2zM317 265h2v3h-2zM325 279h3v3h-3zM345 280h2v3h-2zM348 291h3v3h-3zM364 297h2v2h-2zM377 286h2v3h-2zM377 293h2v2h-2zM381 281h3v3h-3zM389 275h2v3h-2zM393 279h2v3h-2zM397 269h2v2h-2zM405 273h2v3h-2zM404 291h2v3h-2zM453 292h3v3h-3zM457 274h3v3h-3zM461 285h2v2h-2zM461 307h2v3h-2zM486 299h2v3h-2zM490 287h3v3h-3zM491 307h2v3h-2zM503 278h2v3h-2zM507 306h2v3h-2zM511 271h2v2h-2z" fill="#00009b"/>
<path d="M267 254h2v3h-2zM367 257h2v3h-2z" fill="#44fff3"/>
<path d="M267 257h2v3h-2zM344 257h2v3h-2zM357 263h2v2h-2z" fill="#4cffec"/>
<path d="M267 260h2v2h-2zM280 255h3v3h-3zM320 258h2v3h-2zM343 258h2v3h-2zM390 256h2v2h-2z" fill="#38ecff"/>
<path d="M268 268h2v3h-2zM268 278h3v3h-3zM276 277h2v2h-2zM279 282h2v2h-2zM301 282h3v3h-3zM309 275h3v3h-3zM329 285h2v3h-2zM372 300h2v3h-2zM402 307h3v3h-3zM405 284h2v2h-2zM408 275h2v2h-2zM458 296h2v2h-2zM462 269h2v3h-2zM470 286h2v3h-2zM473 274h2v2h-2zM474 308h2v3h-2zM475 318h2v2h-2zM482 302h2v3h-2zM494 306h2v2h-2zM494 316h2v3h-2zM511 282h2v3h-2zM511 289h2v3h-2zM518 312h2v2h-2z" fill="#000093"/>
<path d="M268 285h2v2h-2zM276 297h2v2h-2zM309 281h2v2h-2zM316 299h2v2h-2zM322 299h2v3h-2zM337 295h2v3h-2zM349 285h2v3h-2zM356 298h2v3h-2zM373 273h2v3h-2zM377 283h2v2h-2zM385 287h2v2h-2zM388 292h3v2h-3zM421 270h3v3h-3zM425 295h2v3h-2zM436 311h2v3h-2zM466 315h2v3h-2zM483 319h3v3h-3zM485 311h2v3h-2zM507 291h3v3h-3z" fill="#000098"/>
<path d="M272 257h2v3h-2z" fill="#38e1ff"/>
<path d="M272 261h2v3h-2zM297 262h3v3h-3z" fill="#41fff6"/>
<path d="M272 275h2v3h-2zM330 304h2v3h-2zM340 304h3v3h-3zM377 300h2v3h-2zM386 308h2v3h-2zM389 279h2v3h-2zM393 283h2v2h-2zM394 306h2v2h-2zM397 279h2v3h-2zM401 284h2v2h-2zM404 302h2v3h-2zM413 273h2v3h-2zM441 279h3v3h-3zM445 301h2v3h-2zM453 288h3v3h-3zM453 310h2v3h-2zM458 300h2v3h-2zM469 290h2v3h-2zM469 316h2v3h-2zM478 275h2v3h-2zM477 319h3v2h-3zM486 275h2v3h-2zM507 312h2v2h-2zM510 300h3v2h-3z" fill="#000094"/>
<path d="M271 297h2v2h-2zM294 269h2v3h-2zM348 304h2v3h-2zM369 286h2v3h-2zM369 289h2v2h-2zM372 293h2v3h-2zM378 308h2v2h-2zM388 298h2v3h-2zM418 314h2v2h-2zM426 311h2v2h-2zM437 280h2v2h-2zM437 291h2v3h-2zM441 301h2v3h-2zM445 297h2v2h-2zM454 268h2v2h-2zM452 318h2v3h-2zM469 319h2v2h-2zM478 279h2v3h-2zM495 270h3v3h-3zM498 292h2v3h-2zM499 322h2v2h-2zM502 319h2v3h-2zM510 325h2v3h-2z" fill="#000096"/>
<path d="M275 255h2v2h-2z" fill="#38e3ff"/>
<path d="M275 259h2v3h-2z" fill="#38eaff"/>
<path d="M275 262h2v2h-2zM363 262h2v3h-2z" fill="#4effe9"/>
<path d="M275 270h2v2h-2zM291 286h2v3h-2zM291 289h2v2h-2zM313 284h2v3h-2zM332 294h3v3h-3zM365 279h2v3h-2zM369 282h2v3h-2zM385 290h2v3h-2zM394 310h2v3h-2zM396 307h3v2h-3zM409 287h2v3h-2zM425 305h2v3h-2zM436 315h2v3h-2zM445 273h2v2h-2zM445 283h3v3h-3zM450 320h2v2h-2zM452 314h2v3h-2zM474 281h2v2h-2zM486 272h2v2h-2zM502 306h2v2h-2zM506 283h3v3h-3zM515 295h2v3h-2zM515 312h3v3h-3z" fill="#000092"/>
<path d="M277 254h2v3h-2z" fill="#51ffe6"/>
<path d="M280 258h2v3h-2zM281 260h2v3h-2zM328 259h2v3h-2zM349 261h3v2h-3z" fill="#38fcff"/>
<path d="M280 263h2v3h-2z" fill="#38e0ff"/>
<path d="M282 254h2v3h-2z" fill="#38eeff"/>
<path d="M282 258h3v2h-3zM383 255h2v3h-2z" fill="#38efff"/>
<path d="M283 280h2v2h-2zM316 296h2v2h-2zM321 267h2v3h-2zM354 300h3v3h-3zM357 275h3v3h-3zM361 282h2v2h-2zM388 304h2v2h-2zM413 277h2v3h-2zM441 290h3v3h-3zM449 279h2v2h-2zM465 289h2v3h-2zM466 302h2v2h-2zM469 323h2v2h-2zM477 312h2v3h-2zM486 305h2v3h-2zM490 280h2v3h-2zM491 311h2v2h-2zM516 315h2v3h-2z" fill="#00008e"/>
<path d="M284 254h2v3h-2z" fill="#86ffb1"/>
<path d="M289 256h2v2h-2zM292 258h2v3h-2zM312 261h2v3h-2zM418 257h2v3h-2zM424 259h2v2h-2zM431 260h2v3h-2z" fill="#8fffa8"/>
<path d="M290 260h2v2h-2z" fill="#8cffac"/>
<path d="M290 264h2v2h-2zM376 253h2v3h-2zM384 273h3v2h-3z" fill="#38f8ff"/>
<path d="M290 271h2v2h-2zM321 280h2v2h-2zM353 281h2v2h-2zM373 277h2v3h-2zM378 304h2v2h-2zM402 311h2v2h-2zM405 281h2v2h-2zM436 301h2v3h-2zM460 316h2v3h-2zM466 322h2v2h-2zM474 284h2v3h-2zM475 322h2v3h-2zM502 295h3v3h-3zM507 302h2v2h-2zM518 309h2v2h-2z" fill="#00008d"/>
<path d="M291 296h2v3h-2zM294 276h3v3h-3zM324 295h2v2h-2zM329 282h2v2h-2zM341 270h2v3h-2zM349 278h2v3h-2zM361 290h2v2h-2zM373 280h2v2h-2zM373 283h2v2h-2zM396 296h2v3h-2zM412 306h2v3h-2zM417 297h2v3h-2zM428 301h2v2h-2zM436 308h3v2h-3zM482 277h2v2h-2zM495 273h2v3h-2zM511 286h2v2h-2zM515 302h2v3h-2zM518 319h3v2h-3z" fill="#00009a"/>
<path d="M292 255h2v3h-2z" fill="#8affad"/>
<path d="M293 262h2v3h-2zM295 264h2v3h-2zM358 253h2v3h-2zM359 258h2v3h-2z" fill="#38f1ff"/>
<path d="M295 255h2v3h-2zM295 259h2v2h-2zM297 255h2v3h-2zM408 260h2v3h-2zM416 255h2v3h-2zM419 261h2v3h-2zM424 256h2v3h-2z" fill="#88ffaf"/>
<path d="M295 262h2v2h-2zM360 253h3v3h-3zM382 254h2v3h-2zM403 257h2v3h-2z" fill="#4fffe8"/>
<path d="M294 265h2v2h-2zM318 262h2v3h-2zM317 279h2v2h-2zM325 272h2v3h-2zM340 287h2v3h-2zM345 291h2v3h-2zM353 293h3v3h-3zM360 275h2v2h-2zM362 308h2v3h-2zM369 279h3v3h-3zM432 268h3v2h-3zM432 271h2v3h-2zM433 286h2v3h-2zM433 305h2v2h-2zM442 311h2v3h-2zM449 272h2v2h-2zM453 284h3v2h-3zM486 282h2v3h-2zM502 288h2v3h-2z" fill="#000089"/>
<path d="M294 272h2v3h-2zM297 266h2v3h-2zM298 297h2v3h-2zM302 263h2v2h-2zM308 298h2v3h-2zM337 287h2v3h-2zM372 303h2v2h-2zM376 275h2v3h-2zM388 308h2v3h-2zM397 290h2v2h-2zM396 310h2v2h-2zM420 305h3v3h-3zM429 297h2v2h-2zM428 305h2v3h-2zM436 298h2v3h-2zM441 297h2v3h-2zM498 285h2v3h-2zM501 323h2v3h-2zM519 295h2v2h-2z" fill="#00008a"/>
<path d="M294 286h3v3h-3zM313 277h2v3h-2zM333 283h2v2h-2zM336 267h2v3h-2zM356 291h2v2h-2zM360 272h2v3h-2zM393 291h2v3h-2zM412 284h2v3h-2zM444 312h2v2h-2zM449 287h3v3h-3zM449 294h3v3h-3zM461 296h2v3h-2zM470 282h2v3h-2zM478 282h3v2h-3zM477 295h2v2h-2zM482 298h2v3h-2zM490 277h2v3h-2zM490 304h2v2h-2zM494 312h2v2h-2zM502 309h2v2h-2zM507 295h2v3h-2zM507 298h2v2h-2z" fill="#000091"/>
<path d="M297 253h2v3h-2zM341 267h2v2h-2zM400 261h2v2h-2z" fill="#93ffa4"/>
<path d="M296 257h2v3h-2z" fill="#8cffab"/>
<path d="M296 260h2v3h-2zM418 254h2v3h-2z" fill="#96ffa1"/>
<path d="M297 258h2v2h-2zM303 260h2v3h-2z" fill="#7effba"/>
<path d="M298 273h2v2h-2zM305 284h2v3h-2zM306 302h3v3h-3zM310 262h2v3h-2zM309 288h2v3h-2zM313 264h2v3h-2zM329 291h2v3h-2zM333 268h3v2h-3zM337 302h2v3h-2zM348 301h2v3h-2zM365 276h2v3h-2zM389 282h2v2h-2zM388 289h2v3h-2zM388 295h2v2h-2zM401 297h2v3h-2zM404 299h3v3h-3zM408 268h2v3h-2zM410 310h2v2h-2zM417 300h2v3h-2zM417 304h2v2h-2zM421 277h2v3h-2zM425 291h2v3h-2zM441 276h2v2h-2zM482 287h2v2h-2zM498 274h3v2h-3zM499 296h2v2h-2zM519 285h2v3h-2z" fill="#00008b"/>
<path d="M298 276h2v2h-2zM301 293h3v3h-3zM325 276h2v3h-2zM330 301h2v2h-2zM336 270h2v3h-2zM349 288h2v3h-2zM356 295h2v3h-2zM369 275h3v3h-3zM388 301h2v3h-2zM393 287h2v3h-2zM401 277h3v3h-3zM433 282h2v2h-2zM444 315h2v3h-2zM450 316h2v3h-2zM457 268h2v2h-2zM490 283h3v2h-3zM502 299h2v3h-2zM502 316h2v3h-2zM508 323h2v2h-2zM515 291h2v2h-2z" fill="#000090"/>
<path d="M299 301h3v2h-3zM305 277h2v3h-2zM309 272h2v3h-2zM317 272h2v2h-2zM316 292h3v3h-3zM361 286h2v3h-2zM364 306h3v3h-3zM368 271h2v2h-2zM401 301h3v3h-3zM404 288h3v3h-3zM404 295h2v3h-2zM420 301h2v2h-2zM429 294h2v3h-2zM437 287h2v2h-2zM457 271h2v3h-2zM491 317h2v3h-2zM507 320h2v3h-2zM518 305h3v2h-3z" fill="#000087"/>
<path d="M299 255h2v3h-2zM432 264h2v3h-2z" fill="#73ffc4"/>
<path d="M300 258h2v3h-2z" fill="#7fffb8"/>
<path d="M302 256h2v3h-2zM374 263h2v3h-2z" fill="#6affcd"/>
<path d="M302 260h2v2h-2z" fill="#7affbd"/>
<path d="M304 257h2v3h-2z" fill="#a1ff96"/>
<path d="M304 256h2v3h-2zM368 261h2v3h-2zM392 256h2v3h-2z" fill="#71ffc6"/>
<path d="M305 260h3v2h-3zM400 258h2v2h-2z" fill="#81ffb6"/>
<path d="M305 267h2v2h-2zM313 287h3v2h-3zM317 286h2v3h-2zM324 289h2v3h-2zM332 301h2v3h-2zM337 298h2v3h-2zM340 291h3v3h-3zM380 302h3v3h-3zM385 276h2v3h-2zM385 283h2v2h-2zM408 279h2v3h-2zM428 312h2v3h-2zM445 276h3v3h-3zM465 292h2v3h-2zM474 301h2v3h-2zM482 305h2v3h-2zM494 286h2v3h-2zM502 302h2v3h-2zM511 279h2v3h-2zM515 308h2v3h-2zM519 274h3v3h-3zM519 281h2v3h-2z" fill="#000086"/>
<path d="M307 257h2v3h-2zM392 260h2v3h-2z" fill="#68ffcf"/>
<path d="M310 256h3v3h-3zM395 260h2v3h-2zM423 257h2v3h-2z" fill="#83ffb4"/>
<path d="M310 259h2v3h-2z" fill="#66ffd1"/>
<path d="M309 269h3v3h-3zM321 290h2v3h-2zM324 292h2v3h-2zM324 302h2v3h-2zM329 275h2v3h-2zM341 274h2v3h-2zM377 279h3v3h-3zM397 286h2v2h-2zM409 302h2v2h-2zM412 298h3v3h-3zM420 284h3v3h-3zM429 272h2v3h-2zM450 305h2v3h-2zM454 276h3v3h-3zM490 297h2v2h-2zM494 293h2v3h-2zM498 281h2v3h-2zM499 299h2v2h-2zM499 318h2v3h-2z" fill="#000084"/>
<path d="M311 258h2v3h-2zM416 258h2v3h-2z" fill="#97ffa0"/>
<path d="M312 254h3v2h-3zM415 253h2v3h-2z" fill="#92ffa5"/>
<path d="M312 257h3v3h-3z" fill="#80ffb7"/>
<path d="M313 280h3v2h-3zM322 293h2v3h-2zM349 268h2v2h-2zM354 303h2v2h-2zM361 279h2v2h-2zM380 305h2v3h-2zM394 302h2v2h-2zM405 270h2v2h-2zM420 312h2v3h-2zM437 270h2v2h-2zM436 294h2v3h-2zM442 314h2v3h-2zM470 279h3v3h-3zM483 316h3v3h-3zM502 312h3v2h-3zM511 275h2v2h-2zM510 304h3v3h-3z" fill="#000088"/>
<path d="M314 302h3v2h-3zM321 283h3v3h-3zM324 285h3v3h-3zM345 288h2v3h-2zM356 288h2v3h-2zM361 304h2v2h-2zM364 300h2v3h-2zM380 309h2v2h-2zM385 279h2v3h-2zM396 293h2v3h-2zM401 281h2v2h-2zM401 287h2v3h-2zM409 306h3v2h-3zM417 293h2v3h-2zM417 307h2v3h-2zM425 302h2v3h-2zM425 308h3v2h-3zM461 304h3v3h-3zM490 300h2v2h-2zM510 321h2v3h-2zM515 283h2v2h-2z" fill="#000083"/>
<path d="M314 254h2v3h-2zM336 263h3v3h-3zM357 269h3v3h-3z" fill="#a9ff8e"/>
<path d="M315 257h2v3h-2zM411 263h2v3h-2z" fill="#85ffb2"/>
<path d="M318 255h2v2h-2zM422 261h2v3h-2z" fill="#9fff98"/>
<path d="M318 258h3v3h-3z" fill="#9dff9a"/>
<path d="M317 269h2v3h-2zM322 296h2v2h-2zM369 299h2v2h-2zM381 278h2v3h-2zM380 288h2v3h-2zM393 298h2v3h-2zM417 311h2v3h-2zM420 294h2v2h-2zM437 283h3v3h-3zM441 283h2v2h-2zM458 304h2v2h-2zM466 296h2v2h-2zM469 297h3v2h-3zM481 273h3v3h-3zM485 314h2v3h-2zM507 309h2v3h-2z" fill="#000081"/>
<path d="M317 283h2v3h-2zM321 270h2v3h-2zM337 291h2v3h-2zM341 277h2v3h-2zM353 289h2v2h-2zM357 285h2v3h-2zM404 306h2v3h-2zM412 310h2v3h-2zM417 286h2v3h-2zM425 285h2v2h-2zM425 288h2v2h-2zM449 290h2v2h-2zM450 309h2v2h-2zM457 286h2v2h-2zM458 293h2v2h-2zM461 277h2v2h-2zM465 280h2v3h-2zM465 286h2v3h-2zM466 309h3v3h-3zM486 289h2v3h-2zM494 283h2v3h-2zM515 305h2v3h-2z" fill="#000085"/>
<path d="M320 264h3v2h-3zM357 266h2v3h-2z" fill="#d7ff60"/>
<path d="M323 262h2v3h-2z" fill="#afff88"/>
<path d="M325 260h3v2h-3zM384 261h2v2h-2z" fill="#46fff1"/>
<path d="M325 263h2v3h-2z" fill="#baff7d"/>
<path d="M324 305h2v3h-2zM337 284h2v3h-2zM338 305h2v3h-2zM340 301h2v3h-2zM365 283h3v2h-3zM396 303h2v3h-2zM425 298h2v3h-2zM433 278h3v3h-3zM440 265h3v2h-3zM440 272h2v3h-2zM445 290h2v2h-2zM453 299h2v2h-2zM474 287h2v2h-2zM478 288h2v2h-2zM483 309h2v2h-2zM486 295h2v3h-2zM486 302h2v3h-2zM494 296h2v2h-2zM499 307h2v3h-2zM503 281h2v3h-2zM510 311h3v2h-3zM514 279h2v3h-2z" fill="#00008c"/>
<path d="M327 255h2v3h-2zM350 255h3v2h-3zM360 261h2v2h-2z" fill="#5affdd"/>
<path d="M327 258h2v3h-2zM408 257h3v3h-3z" fill="#53ffe4"/>
<path d="M326 262h2v3h-2zM421 259h2v3h-2zM424 262h3v3h-3zM449 264h2v2h-2z" fill="#b6ff81"/>
<path d="M328 255h2v2h-2z" fill="#5effda"/>
<path d="M328 262h2v3h-2zM427 261h2v3h-2z" fill="#a2ff95"/>
<path d="M328 265h2v3h-2zM478 272h2v3h-2z" fill="#38c4ff"/>
<path d="M329 294h3v2h-3zM336 273h2v2h-2zM340 294h2v3h-2zM361 297h3v3h-3zM377 290h2v2h-2zM421 273h2v3h-2zM434 316h3v2h-3zM445 286h2v2h-2zM444 318h2v3h-2zM453 295h2v3h-2zM458 307h2v2h-2zM458 311h3v2h-3zM461 288h2v2h-2zM474 315h2v3h-2zM477 298h2v2h-2z" fill="#000082"/>
<path d="M330 254h2v3h-2z" fill="#3efff9"/>
<path d="M334 257h2v2h-2z" fill="#58ffdf"/>
<path d="M334 260h2v3h-2zM336 253h3v2h-3zM342 257h2v3h-2zM343 254h2v3h-2zM382 258h2v3h-2z" fill="#57ffe0"/>
<path d="M333 264h2v2h-2zM437 259h2v3h-2z" fill="#b4ff83"/>
<path d="M332 291h2v3h-2zM337 277h2v3h-2zM345 284h2v2h-2zM349 274h2v3h-2zM364 310h2v3h-2zM372 296h2v3h-2zM372 306h2v2h-2zM429 276h2v3h-2zM429 279h2v3h-2zM429 290h2v2h-2zM433 301h3v3h-3zM434 312h2v3h-2zM437 273h2v2h-2zM466 299h2v3h-2zM466 319h2v3h-2zM499 325h2v3h-2zM507 316h2v3h-2zM515 298h2v3h-2z" fill="#00008f"/>
<path d="M334 262h2v3h-2z" fill="#d1ff66"/>
<path d="M336 257h2v3h-2zM356 264h2v3h-2zM360 257h2v3h-2z" fill="#64ffd3"/>
<path d="M336 260h2v3h-2zM342 254h3v2h-3zM352 259h2v3h-2zM390 261h2v3h-2z" fill="#38f6ff"/>
<path d="M338 254h2v3h-2zM389 272h3v3h-3z" fill="#3dfffa"/>
<path d="M339 261h2v3h-2zM376 253h2v3h-2z" fill="#45fff3"/>
<path d="M341 260h2v2h-2zM374 256h2v2h-2zM375 256h2v3h-2z" fill="#5bffdc"/>
<path d="M341 264h2v3h-2z" fill="#ffe838"/>
<path d="M342 262h2v3h-2z" fill="#fff838"/>
<path d="M344 260h2v2h-2zM389 262h2v2h-2z" fill="#5effd9"/>
<path d="M344 264h2v2h-2zM443 256h2v3h-2zM457 264h2v3h-2z" fill="#efff48"/>
<path d="M349 264h2v3h-2zM448 260h2v3h-2z" fill="#f1ff46"/>
<path d="M351 254h2v3h-2z" fill="#4bffec"/>
<path d="M350 264h2v3h-2z" fill="#feff39"/>
<path d="M352 255h2v2h-2z" fill="#5fffd8"/>
<path d="M352 263h2v3h-2zM424 265h2v3h-2z" fill="#dcff5b"/>
<path d="M352 267h3v3h-3z" fill="#65ffd3"/>
<path d="M354 253h2v3h-2z" fill="#42fff5"/>
<path d="M355 257h2v3h-2z" fill="#55ffe2"/>
<path d="M358 256h3v3h-3z" fill="#60ffd7"/>
<path d="M358 260h2v2h-2zM366 259h2v3h-2z" fill="#6effc9"/>
<path d="M359 254h2v3h-2z" fill="#62ffd5"/>
<path d="M360 265h2v3h-2zM373 266h2v3h-2z" fill="#e0ff57"/>
<path d="M360 268h2v3h-2zM421 263h3v3h-3z" fill="#9cff9b"/>
<path d="M363 258h2v3h-2zM375 260h2v3h-2z" fill="#38ffff"/>
<path d="M366 256h2v3h-2z" fill="#3ffff8"/>
<path d="M366 263h2v3h-2z" fill="#45fff2"/>
<path d="M365 266h2v3h-2zM489 260h2v3h-2zM495 260h2v3h-2z" fill="#fffa38"/>
<path d="M365 269h2v2h-2z" fill="#7dffba"/>
<path d="M368 254h3v3h-3zM391 258h2v3h-2z" fill="#61ffd6"/>
<path d="M368 258h2v3h-2z" fill="#39fffe"/>
<path d="M368 264h2v3h-2zM405 258h2v3h-2z" fill="#6fffc8"/>
<path d="M368 268h2v2h-2z" fill="#99ff9e"/>
<path d="M371 261h2v3h-2z" fill="#49ffee"/>
<path d="M372 264h2v3h-2zM381 264h3v3h-3zM382 262h2v3h-2z" fill="#6cffcc"/>
<path d="M373 260h2v2h-2z" fill="#67ffd0"/>
<path d="M373 263h2v3h-2z" fill="#87ffb0"/>
<path d="M373 270h2v3h-2zM381 268h2v3h-2z" fill="#ff9e38"/>
<path d="M376 261h2v3h-2z" fill="#50ffe7"/>
<path d="M376 264h3v2h-3z" fill="#75ffc2"/>
<path d="M376 268h2v2h-2zM392 263h2v2h-2z" fill="#ffd538"/>
<path d="M379 257h2v3h-2zM384 254h2v3h-2z" fill="#4dffea"/>
<path d="M380 298h2v3h-2zM393 295h2v3h-2zM426 314h2v3h-2zM428 316h2v3h-2zM434 309h2v2h-2zM442 317h2v2h-2zM469 301h2v3h-2zM469 308h2v2h-2zM477 292h2v2h-2zM491 324h3v3h-3zM511 293h2v2h-2z" fill="#000080"/>
<path d="M384 265h2v2h-2zM506 265h2v3h-2z" fill="#f3ff45"/>
<path d="M384 269h2v2h-2zM473 258h2v3h-2z" fill="#ffce38"/>
<path d="M387 263h2v3h-2z" fill="#65ffd2"/>
<path d="M389 259h2v2h-2z" fill="#38faff"/>
<path d="M389 266h3v2h-3z" fill="#bbff7c"/>
<path d="M389 269h2v3h-2z" fill="#ffaf38"/>
<path d="M391 254h2v3h-2z" fill="#63ffd4"/>
<path d="M392 267h2v2h-2z" fill="#f20000"/>
<path d="M398 258h3v3h-3zM413 258h2v2h-2z" fill="#79ffbe"/>
<path d="M397 262h2v2h-2z" fill="#ffd238"/>
<path d="M397 265h3v3h-3z" fill="#e10000"/>
<path d="M398 262h2v3h-2z" fill="#ffcb38"/>
<path d="M400 264h2v3h-2z" fill="#ffc938"/>
<path d="M400 268h3v2h-3z" fill="#3893ff"/>
<path d="M403 260h2v3h-2z" fill="#93ffa5"/>
<path d="M404 264h2v3h-2z" fill="#ffbf38"/>
<path d="M405 262h2v3h-2z" fill="#ffb338"/>
<path d="M405 266h2v3h-2z" fill="#ff2300"/>
<path d="M406 262h2v3h-2z" fill="#ffc638"/>
<path d="M408 253h2v3h-2z" fill="#50ffe8"/>
<path d="M408 264h2v3h-2z" fill="#ffad38"/>
<path d="M413 262h2v3h-2z" fill="#beff79"/>
<path d="M413 266h2v2h-2zM451 257h2v3h-2zM462 262h2v3h-2z" fill="#d5ff62"/>
<path d="M413 269h3v3h-3z" fill="#38a3ff"/>
<path d="M414 261h2v3h-2z" fill="#a0ff97"/>
<path d="M416 262h3v3h-3zM457 260h3v3h-3z" fill="#c1ff76"/>
<path d="M416 265h2v3h-2z" fill="#f0ff47"/>
<path d="M416 269h2v3h-2zM446 269h2v3h-2z" fill="#38afff"/>
<path d="M421 256h2v3h-2z" fill="#82ffb5"/>
<path d="M421 266h2v3h-2z" fill="#fffe38"/>
<path d="M423 254h2v3h-2z" fill="#9bff9c"/>
<path d="M424 268h2v3h-2z" fill="#3897ff"/>
<path d="M427 257h2v3h-2z" fill="#f5ff42"/>
<path d="M430 254h2v2h-2z" fill="#cbff6c"/>
<path d="M430 258h2v3h-2z" fill="#d8ff5f"/>
<path d="M430 265h3v2h-3z" fill="#38b3ff"/>
<path d="M432 257h2v3h-2z" fill="#c2ff75"/>
<path d="M432 260h2v3h-2z" fill="#94ffa3"/>
<path d="M435 257h2v3h-2zM439 254h2v3h-2zM454 254h3v3h-3z" fill="#daff5e"/>
<path d="M435 260h2v3h-2z" fill="#b0ff87"/>
<path d="M438 256h2v2h-2z" fill="#ebff4c"/>
<path d="M437 263h2v3h-2z" fill="#76ffc1"/>
<path d="M437 267h2v3h-2z" fill="#38b7ff"/>
<path d="M438 261h2v3h-2z" fill="#85ffb3"/>
<path d="M440 254h3v3h-3z" fill="#b3ff84"/>
<path d="M440 258h2v2h-2zM450 253h2v3h-2z" fill="#ecff4b"/>
<path d="M440 262h3v2h-3z" fill="#bfff78"/>
<path d="M442 253h2v3h-2zM448 254h2v3h-2zM465 263h3v2h-3z" fill="#e4ff53"/>
<path d="M443 260h2v3h-2z" fill="#a4ff93"/>
<path d="M444 264h2v3h-2z" fill="#70ffc7"/>
<path d="M446 254h2v2h-2z" fill="#ccff6b"/>
<path d="M446 258h2v3h-2zM489 257h2v2h-2z" fill="#f4ff43"/>
<path d="M446 262h2v2h-2zM446 265h2v2h-2z" fill="#e8ff50"/>
<path d="M447 257h2v3h-2z" fill="#e7ff50"/>
<path d="M447 261h2v3h-2z" fill="#caff6d"/>
<path d="M448 253h2v3h-2z" fill="#d9ff5e"/>
<path d="M449 268h2v3h-2z" fill="#38bbff"/>
<path d="M452 261h2v3h-2zM456 257h2v2h-2z" fill="#daff5d"/>
<path d="M454 257h2v3h-2z" fill="#fffd38"/>
<path d="M454 261h2v3h-2z" fill="#d6ff61"/>
<path d="M454 264h3v2h-3zM468 261h2v3h-2z" fill="#e8ff4f"/>
<path d="M456 254h2v3h-2z" fill="#fcff3b"/>
<path d="M456 258h2v3h-2z" fill="#d3ff64"/>
<path d="M456 253h2v3h-2zM478 262h2v2h-2z" fill="#f6ff41"/>
<path d="M459 254h2v3h-2z" fill="#ddff5a"/>
<path d="M460 261h2v3h-2z" fill="#d3ff65"/>
<path d="M462 254h2v3h-2z" fill="#dfff58"/>
<path d="M462 258h2v2h-2z" fill="#c6ff71"/>
<path d="M462 265h2v3h-2z" fill="#faff3e"/>
<path d="M463 257h2v3h-2z" fill="#ffb238"/>
<path d="M463 261h2v3h-2zM465 266h2v2h-2zM488 258h2v3h-2zM504 260h2v3h-2z" fill="#ffe438"/>
<path d="M464 259h2v2h-2z" fill="#ffe738"/>
<path d="M465 269h3v3h-3z" fill="#ad0000"/>
<path d="M467 257h2v3h-2z" fill="#ffd338"/>
<path d="M470 257h2v3h-2zM472 254h2v3h-2z" fill="#ffe938"/>
<path d="M470 260h2v3h-2zM481 259h2v2h-2z" fill="#fffb38"/>
<path d="M470 264h2v3h-2z" fill="#cdff6a"/>
<path d="M470 268h2v3h-2z" fill="#9b0000"/>
<path d="M470 272h3v3h-3z" fill="#38bfff"/>
<path d="M473 254h2v3h-2z" fill="#fff938"/>
<path d="M473 261h2v3h-2z" fill="#e9ff4e"/>
<path d="M473 264h2v3h-2z" fill="#e1ff56"/>
<path d="M473 268h2v3h-2z" fill="#8d0000"/>
<path d="M473 271h2v3h-2z" fill="#38ccff"/>
<path d="M475 256h2v3h-2z" fill="#ffb538"/>
<path d="M476 260h2v3h-2zM492 258h2v3h-2z" fill="#ffe638"/>
<path d="M479 255h3v3h-3z" fill="#e3ff54"/>
<path d="M478 259h2v3h-2z" fill="#fff438"/>
<path d="M478 266h3v3h-3z" fill="#f7ff40"/>
<path d="M478 269h2v3h-2zM517 261h2v3h-2zM520 261h3v3h-3zM519 264h2v3h-2z" fill="#800000"/>
<path d="M480 254h2v3h-2zM489 253h2v2h-2zM512 257h2v3h-2z" fill="#ffda38"/>
<path d="M481 256h2v3h-2zM487 259h2v2h-2z" fill="#ffe138"/>
<path d="M481 263h3v3h-3z" fill="#c10000"/>
<path d="M481 266h2v2h-2z" fill="#ff9638"/>
<path d="M483 253h2v3h-2z" fill="#ffd838"/>
<path d="M487 256h3v3h-3z" fill="#ffa838"/>
<path d="M487 263h2v3h-2z" fill="#940000"/>
<path d="M487 266h2v2h-2z" fill="#ff8338"/>
<path d="M487 269h2v3h-2z" fill="#38c5ff"/>
<path d="M489 255h2v3h-2z" fill="#ffd438"/>
<path d="M489 264h2v3h-2z" fill="#a00000"/>
<path d="M489 267h3v2h-3z" fill="#ff8e38"/>
<path d="M490 270h2v2h-2z" fill="#38a4ff"/>
<path d="M491 255h2v3h-2z" fill="#ffea38"/>
<path d="M493 262h2v3h-2z" fill="#ffec38"/>
<path d="M495 253h2v3h-2z" fill="#ffa538"/>
<path d="M495 263h2v3h-2z" fill="#d40000"/>
<path d="M495 266h2v2h-2z" fill="#ff8c38"/>
<path d="M496 258h2v3h-2z" fill="#fff338"/>
<path d="M496 262h2v3h-2z" fill="#c00000"/>
<path d="M497 256h2v3h-2z" fill="#ffbd38"/>
<path d="M498 259h2v2h-2z" fill="#ffee38"/>
<path d="M498 263h2v2h-2z" fill="#d30000"/>
<path d="M498 266h2v3h-2z" fill="#ffb938"/>
<path d="M500 254h2v3h-2z" fill="#ffe538"/>
<path d="M500 257h2v3h-2zM506 253h3v3h-3zM514 261h2v2h-2z" fill="#ffa238"/>
<path d="M501 261h2v3h-2z" fill="#ff7b38"/>
<path d="M503 254h3v3h-3zM503 261h2v3h-2z" fill="#ffcf38"/>
<path d="M503 258h3v2h-3z" fill="#ffcd38"/>
<path d="M503 264h3v2h-3z" fill="#ff2700"/>
<path d="M503 267h2v2h-2z" fill="#fdff3a"/>
<path d="M505 253h2v3h-2z" fill="#fff638"/>
<path d="M505 257h2v3h-2z" fill="#ffd938"/>
<path d="M506 257h3v3h-3z" fill="#ffde38"/>
<path d="M506 261h2v3h-2z" fill="#ff9738"/>
<path d="M509 262h2v3h-2z" fill="#ff3e00"/>
<path d="M512 260h2v3h-2z" fill="#ffbb38"/>
<path d="M511 264h2v3h-2z" fill="#ff7938"/>
<path d="M512 261h2v3h-2z" fill="#ff9038"/>
<path d="M514 254h3v2h-3z" fill="#ffdc38"/>
<path d="M514 257h2v3h-2z" fill="#ffbe38"/>
<path d="M514 264h3v2h-3z" fill="#ff7638"/>
<path d="M520 253h2v3h-2z" fill="#ae0000"/>
<path d="M520 257h2v3h-2z" fill="#ffac38"/>
<path d="M519 268h2v2h-2z" fill="#3877ff"/>
</g>
<g font-family="'Liberation Serif', 'DejaVu Serif', serif" font-weight="bold" fill="#000">
<text x="162.7" y="26.4" font-size="15.3" textLength="294" lengthAdjust="spacingAndGlyphs">Chlor: Gridded data (1km x 4m) (pcolor plot)</text>
<text x="126.7" y="240.4" font-size="15.3" textLength="366.3" lengthAdjust="spacingAndGlyphs">Chlor: Full data set (scatter plot, every 10th point used)</text>
<text x="263" y="434.8" font-size="14.8" textLength="91" lengthAdjust="spacingAndGlyphs">Distance, (km)</text>
<text x="74.2" y="42.8" font-size="13.6" text-anchor="end">0</text>
<text x="74.2" y="78.8" font-size="13.6" text-anchor="end">50</text>
<text x="74.2" y="115.8" font-size="13.6" text-anchor="end">100</text>
<text x="74.2" y="152.8" font-size="13.6" text-anchor="end">150</text>
<text x="74.2" y="189.8" font-size="13.6" text-anchor="end">200</text>
<text x="76.7" y="203.6" font-size="13.6" text-anchor="middle">0</text>
<text x="166.7" y="203.6" font-size="13.6" text-anchor="middle">5</text>
<text x="255.7" y="203.6" font-size="13.6" text-anchor="middle">10</text>
<text x="345.7" y="203.6" font-size="13.6" text-anchor="middle">15</text>
<text x="434.7" y="203.6" font-size="13.6" text-anchor="middle">20</text>
<text x="524.7" y="203.6" font-size="13.6" text-anchor="middle">25</text>
<text transform="translate(44.9 144.1) rotate(-90)" font-size="14.6" textLength="62" lengthAdjust="spacingAndGlyphs">Depth,(m)</text>
<text x="74.2" y="256.8" font-size="13.6" text-anchor="end">0</text>
<text x="74.2" y="292.8" font-size="13.6" text-anchor="end">50</text>
<text x="74.2" y="329.8" font-size="13.6" text-anchor="end">100</text>
<text x="74.2" y="366.8" font-size="13.6" text-anchor="end">150</text>
<text x="74.2" y="403.8" font-size="13.6" text-anchor="end">200</text>
<text x="76.7" y="417.6" font-size="13.6" text-anchor="middle">0</text>
<text x="166.7" y="417.6" font-size="13.6" text-anchor="middle">5</text>
<text x="255.7" y="417.6" font-size="13.6" text-anchor="middle">10</text>
<text x="345.7" y="417.6" font-size="13.6" text-anchor="middle">15</text>
<text x="434.7" y="417.6" font-size="13.6" text-anchor="middle">20</text>
<text x="524.7" y="417.6" font-size="13.6" text-anchor="middle">25</text>
<text transform="translate(44.9 358.1) rotate(-90)" font-size="14.6" textLength="62" lengthAdjust="spacingAndGlyphs">Depth,(m)</text>
</g>
</svg>
</body></html>
